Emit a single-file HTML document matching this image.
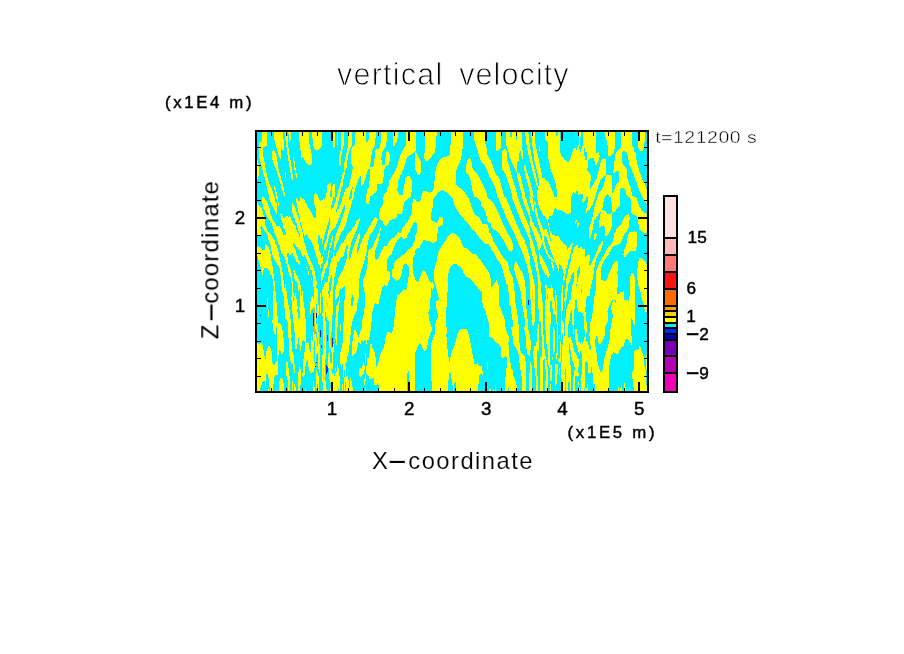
<!DOCTYPE html>
<html lang="en"><head><meta charset="utf-8"><title>vertical velocity</title>
<style>
html,body{margin:0;padding:0;background:#fff;}
body{width:904px;height:654px;overflow:hidden;position:relative;}
svg{position:absolute;left:0;top:0;display:block}
text{will-change:transform}
text{font-family:"Liberation Sans",sans-serif;fill:#000;}
.thin{stroke:#fff;stroke-width:0.9px;}
.med{stroke:#fff;stroke-width:0.15px;}
.thin2{stroke:#fff;stroke-width:0.42px;}
.b{stroke:#000;stroke-width:0.45px;}
</style></head><body>
<svg width="904" height="654" viewBox="0 0 904 654">
<rect x="0" y="0" width="904" height="654" fill="#fff"/>
<!-- plot field -->
<rect x="255" y="130" width="394" height="263" fill="#000"/>
<rect x="257" y="132" width="390" height="259" fill="#00F0FF"/>
<g id="field" shape-rendering="crispEdges" fill="#FFFF00">
<defs><clipPath id="c00"><rect x="257" y="132" width="78" height="65"/></clipPath><clipPath id="c01"><rect x="257" y="197" width="78" height="65"/></clipPath><clipPath id="q1"><rect x="257" y="197" width="40" height="33"/></clipPath><clipPath id="q2"><rect x="296" y="197" width="40" height="33"/></clipPath><clipPath id="q3"><rect x="257" y="229" width="40" height="33"/></clipPath><clipPath id="q4"><rect x="296" y="229" width="40" height="33"/></clipPath><clipPath id="c02"><rect x="257" y="262" width="78" height="65"/></clipPath><clipPath id="q5"><rect x="257" y="262" width="40" height="33"/></clipPath><clipPath id="q6"><rect x="296" y="262" width="40" height="33"/></clipPath><clipPath id="q7"><rect x="257" y="294" width="40" height="33"/></clipPath><clipPath id="q8"><rect x="296" y="294" width="40" height="33"/></clipPath><clipPath id="c03"><rect x="257" y="327" width="78" height="64"/></clipPath><clipPath id="q9"><rect x="257" y="327" width="40" height="33"/></clipPath><clipPath id="q10"><rect x="296" y="327" width="40" height="33"/></clipPath><clipPath id="q11"><rect x="257" y="359" width="40" height="33"/></clipPath><clipPath id="q12"><rect x="296" y="359" width="40" height="33"/></clipPath><clipPath id="c10"><rect x="335" y="132" width="78" height="65"/></clipPath><clipPath id="c11"><rect x="335" y="197" width="78" height="65"/></clipPath><clipPath id="q13"><rect x="335" y="197" width="40" height="33"/></clipPath><clipPath id="q14"><rect x="374" y="197" width="40" height="33"/></clipPath><clipPath id="q15"><rect x="335" y="229" width="40" height="33"/></clipPath><clipPath id="q16"><rect x="374" y="229" width="40" height="33"/></clipPath><clipPath id="c12"><rect x="335" y="262" width="78" height="65"/></clipPath><clipPath id="c13"><rect x="335" y="327" width="78" height="64"/></clipPath><clipPath id="q17"><rect x="335" y="327" width="40" height="33"/></clipPath><clipPath id="q18"><rect x="335" y="359" width="40" height="33"/></clipPath><clipPath id="q19"><rect x="374" y="327" width="40" height="33"/></clipPath><clipPath id="q20"><rect x="374" y="359" width="40" height="33"/></clipPath><clipPath id="c20"><rect x="413" y="132" width="78" height="65"/></clipPath><clipPath id="c21"><rect x="413" y="197" width="78" height="65"/></clipPath><clipPath id="c22"><rect x="413" y="262" width="78" height="65"/></clipPath><clipPath id="c23"><rect x="413" y="327" width="78" height="64"/></clipPath><clipPath id="c30"><rect x="491" y="132" width="78" height="65"/></clipPath><clipPath id="c31"><rect x="491" y="197" width="78" height="65"/></clipPath><clipPath id="q21"><rect x="530" y="197" width="40" height="33"/></clipPath><clipPath id="q22"><rect x="530" y="229" width="40" height="33"/></clipPath><clipPath id="c32"><rect x="491" y="262" width="78" height="65"/></clipPath><clipPath id="q23"><rect x="530" y="262" width="40" height="33"/></clipPath><clipPath id="q24"><rect x="530" y="294" width="40" height="33"/></clipPath><clipPath id="c33"><rect x="491" y="327" width="78" height="64"/></clipPath><clipPath id="q25"><rect x="491" y="327" width="40" height="33"/></clipPath><clipPath id="q26"><rect x="530" y="327" width="40" height="33"/></clipPath><clipPath id="q27"><rect x="491" y="359" width="40" height="33"/></clipPath><clipPath id="q28"><rect x="530" y="359" width="40" height="33"/></clipPath><clipPath id="c40"><rect x="569" y="132" width="78" height="65"/></clipPath><clipPath id="c41"><rect x="569" y="197" width="78" height="65"/></clipPath><clipPath id="q29"><rect x="569" y="197" width="40" height="33"/></clipPath><clipPath id="q30"><rect x="608" y="197" width="40" height="33"/></clipPath><clipPath id="q31"><rect x="569" y="229" width="40" height="33"/></clipPath><clipPath id="q32"><rect x="608" y="229" width="40" height="33"/></clipPath><clipPath id="c42"><rect x="569" y="262" width="78" height="65"/></clipPath><clipPath id="q33"><rect x="569" y="262" width="40" height="33"/></clipPath><clipPath id="q34"><rect x="608" y="262" width="40" height="33"/></clipPath><clipPath id="q35"><rect x="569" y="294" width="40" height="33"/></clipPath><clipPath id="q36"><rect x="608" y="294" width="40" height="33"/></clipPath><clipPath id="c43"><rect x="569" y="327" width="78" height="64"/></clipPath><clipPath id="q37"><rect x="569" y="327" width="40" height="33"/></clipPath><clipPath id="q38"><rect x="608" y="327" width="40" height="33"/></clipPath><clipPath id="q39"><rect x="569" y="359" width="40" height="33"/></clipPath><clipPath id="q40"><rect x="608" y="359" width="40" height="33"/></clipPath></defs>
<g clip-path="url(#c00)"><polygon points="262.0,132.0 267.4,132.0 266.9,145.9 263.0,146.9 263.2,154.9 264.5,161.8 265.9,169.8 266.9,175.7 268.9,182.7 271.9,188.7 273.4,193.6 274.1,197.0 268.9,197.0 268.4,193.6 266.9,187.7 265.4,179.7 263.5,173.7 261.5,165.8 259.5,157.8 259.0,147.9 259.2,142.9 261.5,140.9"/><polygon points="257.0,158.8 258.0,160.8 258.8,165.8 258.8,174.7 257.8,178.7 257.0,180.7"/><polygon points="273.9,132.0 283.0,132.0 283.8,142.9 284.0,150.4 282.6,150.4 281.6,146.9 281.1,151.9 280.9,158.6 279.9,158.6 278.1,153.4 276.1,146.4 274.4,140.0"/><polygon points="284.3,132.0 287.3,132.0 287.8,141.9 289.0,151.9 290.8,161.8 292.3,171.8 293.0,180.2 292.0,180.2 290.3,171.8 288.6,161.8 287.1,151.9 285.8,141.9"/><polygon points="288.3,132.0 291.3,132.0 291.0,139.0 289.8,142.4 289.0,140.0"/><polygon points="293.0,156.8 294.0,156.8 295.3,166.8 297.1,175.7 296.8,177.9 295.8,176.7 294.0,167.8"/><polygon points="285.1,171.8 286.1,171.8 286.1,177.7 285.1,177.7"/><polygon points="271.9,151.9 273.4,149.9 274.9,151.4 276.6,155.9 277.5,161.8 278.4,168.8 280.4,175.7 282.3,182.7 284.0,188.7 285.1,195.1 284.3,195.8 283.0,192.6 280.9,185.7 278.9,178.7 276.9,171.8 274.9,166.8 272.4,159.8"/><polygon points="273.9,186.2 274.9,186.2 276.4,191.6 277.9,197.0 276.4,197.0 274.9,191.6"/><polygon points="299.2,132.0 308.7,132.0 309.2,141.9 310.7,149.9 312.0,155.9 311.9,163.0 310.7,164.8 308.2,164.6 304.7,160.8 302.9,157.0 301.3,157.6 300.7,151.9 299.5,141.9"/><polygon points="312.2,132.0 322.1,132.0 322.1,145.4 320.6,148.1 318.4,149.9 315.6,149.9 313.9,147.9 312.7,141.9"/><polygon points="333.3,132.0 335.0,132.0 335.0,145.9 334.0,148.7 333.0,146.9"/><polygon points="326.6,186.2 330.5,182.7 331.3,184.2 330.5,190.6 330.1,197.0 326.1,197.0 326.6,191.6"/><polygon points="332.0,186.7 334.0,183.7 335.0,183.7 335.0,197.0 331.5,197.0 331.5,190.6"/><polygon points="314.1,197.0 314.4,194.6 315.8,192.8 317.6,195.1 317.8,197.0"/></g>
<g clip-path="url(#c01)"><g clip-path="url(#q1)"><rect x="257" y="197" width="40" height="33" fill="#00F0FF"/><polygon fill="#FFFF00" points="257.0,203.1 258.0,203.6 259.0,205.6 261.0,207.1 262.0,208.6 262.3,210.6 263.1,211.6 263.3,214.7 264.1,215.2 264.6,217.2 264.8,219.7 265.1,225.8 266.1,226.8 266.8,229.3 266.8,230.0 257.0,230.0"/><polygon fill="#00F0FF" points="261.5,226.0 263.1,227.8 263.3,228.8 264.1,229.3 264.1,230.0 260.8,230.0 260.0,228.3 260.0,227.3"/><polygon fill="#FFFF00" points="262.0,197.0 264.1,197.0 265.1,199.0 266.1,200.5 267.1,202.0 268.1,204.1 268.9,207.1 269.9,208.6 270.1,213.1 271.1,214.7 272.1,217.2 272.6,219.7 273.7,221.2 274.7,222.7 275.7,224.8 277.2,226.8 278.2,225.8 279.7,226.3 280.2,227.8 281.2,230.0 273.1,230.0 272.9,227.3 272.1,224.2 271.1,222.7 270.1,221.7 269.1,219.7 268.1,218.2 267.1,216.2 266.1,214.2 265.1,212.1 264.3,209.6 263.3,208.6 263.1,204.1 262.0,203.6"/><polygon fill="#FFFF00" points="269.1,197.0 274.9,197.0 275.2,201.5 276.4,202.6 276.9,206.1 276.9,213.7 276.4,213.9 275.9,213.1 275.2,211.6 274.2,209.6 273.1,207.1 272.1,205.1 271.1,203.6 270.1,201.0 269.1,199.5"/><polygon fill="#FFFF00" points="276.2,197.0 277.9,197.0 277.9,201.5 278.9,202.0 278.9,205.6 278.2,205.8 277.9,203.1 277.2,202.0 276.9,199.5 276.2,199.0"/><polygon fill="#FFFF00" points="280.0,214.2 282.0,214.2 282.2,215.9 283.2,216.4 283.2,217.7 284.8,217.9 286.0,216.4 287.3,215.9 288.3,216.7 289.3,215.9 290.3,216.9 291.3,219.2 292.3,221.2 293.3,223.2 294.3,224.8 295.9,226.8 296.1,230.0 285.0,230.0 284.2,228.3 283.2,227.3 283.0,223.2 282.2,222.2 282.0,220.2 281.2,219.2 281.0,215.7 280.0,214.7"/><polygon fill="#FFFF00" points="292.1,203.1 293.1,203.1 293.3,205.1 294.6,206.6 295.9,209.1 296.1,211.6 297.0,211.9 297.0,223.2 295.9,222.7 294.8,219.7 294.6,218.2 293.3,216.7 293.1,213.7 292.1,212.6"/><polygon fill="#FFFF00" points="296.1,198.0 297.0,198.0 297.0,202.8 296.1,202.6"/></g><g clip-path="url(#q2)"><rect x="296" y="197" width="40" height="33" fill="#FFFF00"/><polygon fill="#00F0FF" points="301.0,197.0 313.9,197.0 313.9,204.6 314.9,205.1 314.9,207.6 315.9,208.1 315.9,217.7 314.2,217.7 313.2,216.2 312.1,213.7 311.1,212.1 310.1,209.6 308.1,207.6 307.1,204.6 305.1,202.6 305.1,200.5 304.1,199.3 302.1,198.5"/><polygon fill="#00F0FF" points="296.0,197.0 300.0,197.0 300.0,200.8 298.0,200.8 298.0,199.3 296.8,198.3 296.0,198.0"/><polygon fill="#00F0FF" points="296.0,203.1 297.0,203.1 297.0,208.1 298.0,208.6 298.0,213.1 299.0,213.7 299.0,216.7 300.0,217.2 300.0,220.7 299.1,220.7 298.8,218.2 298.0,217.2 297.8,214.7 297.0,214.2 296.8,212.1 296.0,211.9"/><polygon fill="#00F0FF" points="300.0,222.0 301.0,222.2 301.0,225.0 302.1,225.3 302.1,228.5 303.1,229.3 303.1,230.0 301.3,230.0 301.0,227.8 300.0,224.8"/><polygon fill="#00F0FF" points="296.0,223.0 297.0,223.2 297.0,226.3 298.0,226.8 298.0,230.0 296.0,230.0"/><polygon fill="#00F0FF" points="317.9,197.0 325.0,197.0 325.0,198.8 324.0,199.0 323.8,198.0 323.0,198.3 322.7,199.5 321.2,200.0 320.5,201.0 319.7,200.0 319.0,199.0 317.9,197.5"/><polygon fill="#00F0FF" points="333.3,197.0 336.0,197.0 336.0,201.8 335.1,202.3 334.9,204.1 333.8,204.6 333.6,206.6 332.1,208.1 332.1,209.9 331.1,209.9 331.1,205.1 332.1,204.6 332.1,201.3 333.1,200.8"/><polygon fill="#00F0FF" points="329.1,217.9 330.1,217.9 330.1,225.3 329.1,225.8 328.8,228.3 328.3,230.0 326.0,230.0 327.0,228.3 327.0,225.3 328.0,224.8 328.3,222.0 329.1,221.2"/><polygon fill="#00F0FF" points="336.0,226.8 334.9,227.3 333.8,228.8 333.1,230.0 336.0,230.0"/></g><g clip-path="url(#q3)"><rect x="257" y="229" width="40" height="33" fill="#FFFF00"/><polygon fill="#00F0FF" points="261.0,229.0 263.8,229.0 265.1,232.0 267.1,234.0 267.8,236.1 268.1,239.6 269.1,241.6 270.1,242.6 270.9,246.7 271.1,250.2 272.1,251.2 272.1,254.7 273.1,256.2 273.4,258.3 274.7,259.8 275.9,261.3 276.2,262.0 272.1,262.0 271.1,259.8 270.9,254.7 269.9,254.2 269.6,250.2 269.1,247.2 267.1,245.7 265.3,244.1 265.1,249.7 262.0,249.9 260.0,247.7 258.0,246.4 257.0,246.2 257.0,235.8 261.0,235.6"/><polygon fill="#00F0FF" points="267.1,229.0 267.1,230.5 269.1,232.0 270.1,234.0 272.1,236.1 273.1,238.6 274.9,240.6 275.2,243.1 276.2,244.6 277.2,247.2 278.2,249.2 278.2,251.7 279.2,252.7 279.2,256.2 280.2,257.3 280.2,262.0 286.3,262.0 286.0,260.3 285.3,259.3 284.8,257.3 283.2,255.2 282.2,253.7 281.2,252.2 281.2,250.7 280.2,249.2 280.0,246.2 279.2,244.6 278.2,243.6 278.2,241.6 277.2,240.6 276.9,238.1 275.9,236.1 275.2,234.0 274.2,232.0 273.7,229.0"/><polygon fill="#00F0FF" points="281.2,229.0 285.0,229.0 285.0,231.5 286.0,232.0 286.0,234.6 283.2,234.6 282.7,232.5 281.7,231.0"/><polygon fill="#00F0FF" points="293.1,243.1 293.8,243.1 294.8,244.6 295.9,245.7 297.0,246.7 297.0,252.7 296.1,252.2 295.9,250.7 294.8,249.2 294.3,246.7 293.1,245.1"/><polygon fill="#00F0FF" points="287.0,253.2 288.8,253.2 289.3,254.2 290.1,255.7 291.3,254.7 292.1,253.2 292.8,253.2 293.1,255.2 294.3,256.8 295.3,258.3 296.1,259.3 297.0,260.3 297.0,262.0 288.0,262.0 288.0,257.3 287.0,256.5"/><polygon fill="#00F0FF" points="257.0,256.2 257.8,256.2 258.0,259.8 259.0,260.3 259.0,262.0 257.0,262.0"/><polygon fill="#00F0FF" points="296.1,229.0 297.0,229.0 297.0,229.8 296.1,229.5"/></g><g clip-path="url(#q4)"><rect x="296" y="229" width="40" height="33" fill="#FFFF00"/><polygon fill="#00F0FF" points="296.0,229.0 298.0,229.0 298.0,230.5 299.0,231.0 299.0,233.0 300.0,233.5 300.0,236.8 299.0,236.8 298.8,234.8 298.0,234.0 297.8,232.0 297.0,231.5 296.8,230.3 296.0,230.0"/><polygon fill="#00F0FF" points="301.8,229.0 303.1,229.0 303.1,231.8 302.1,231.8"/><polygon fill="#00F0FF" points="303.1,233.0 304.1,233.0 304.3,235.6 305.1,235.8 306.1,234.0 306.8,234.0 308.1,235.6 308.1,237.3 310.1,239.3 311.1,241.6 312.1,243.1 313.2,245.1 313.9,246.9 314.2,249.7 315.2,251.2 315.2,252.7 316.2,253.7 316.2,256.2 317.2,257.3 317.2,258.8 318.2,259.3 318.2,262.0 310.9,262.0 310.1,259.3 309.1,257.3 308.1,254.7 307.1,251.2 306.1,249.2 305.8,246.7 305.1,245.7 304.8,243.1 304.1,242.6 303.8,238.1 303.1,237.6"/><polygon fill="#00F0FF" points="296.0,246.9 298.0,247.2 298.0,248.7 300.0,250.2 301.0,252.2 301.0,253.7 302.1,255.2 303.6,256.8 303.8,255.2 304.8,255.0 305.1,256.8 306.1,258.3 307.1,259.8 307.1,262.0 299.8,262.0 299.0,260.3 298.0,258.8 297.8,256.2 296.8,254.7 296.0,254.0"/><polygon fill="#00F0FF" points="326.0,229.0 326.0,231.8 325.0,232.3 324.8,234.6 324.0,235.1 323.8,239.6 323.0,240.1 322.7,243.9 322.0,243.9 322.0,238.1 321.2,237.8 321.0,238.8 320.2,238.8 320.0,236.6 319.0,235.1 317.9,235.1 317.9,243.6 319.0,244.1 319.0,250.7 320.0,251.2 320.2,252.7 321.0,253.2 321.2,257.8 322.0,258.0 322.2,256.2 323.0,256.0 323.2,262.0 336.0,262.0 336.0,229.0"/><polygon fill="#FFFF00" points="329.1,229.0 333.3,229.0 332.3,230.5 331.1,231.3 330.8,233.0 330.1,233.8 329.3,235.6 329.1,238.6 328.3,239.1 328.0,243.1 327.0,243.6 326.8,246.7 326.0,247.4 325.8,249.7 324.0,249.9 324.0,244.1 325.0,243.1 325.3,242.1 326.0,241.6 326.3,239.1 327.0,238.1 327.3,234.6 328.3,233.5 328.3,230.5 329.1,230.3"/><polygon fill="#FFFF00" points="332.1,236.1 333.1,236.1 333.1,240.6 332.3,241.1 332.1,244.1 331.1,245.1 330.8,248.2 330.1,248.9 329.8,251.7 329.1,252.2 328.8,257.8 328.0,258.8 328.0,262.0 326.0,262.0 326.3,260.8 327.0,260.3 327.3,258.3 328.0,254.2 328.3,251.2 329.1,250.2 329.3,247.2 330.1,246.2 330.3,243.6 331.1,242.6 331.3,239.1 332.1,238.6"/><polygon fill="#FFFF00" points="335.1,236.1 336.0,236.1 336.0,247.2 335.1,247.4 334.9,249.9 334.1,249.9 334.1,240.9 335.1,240.4"/><polygon fill="#FFFF00" points="333.3,252.0 334.1,252.0 334.1,255.7 336.0,256.0 336.0,262.0 331.1,262.0 331.3,259.3 332.3,258.3 333.1,257.3"/><polygon fill="#FFFF00" points="323.0,250.9 324.0,250.9 324.0,254.0 323.0,254.0"/></g></g>
<g clip-path="url(#c02)"><g clip-path="url(#q5)"><rect x="257" y="262" width="40" height="33" fill="#00F0FF"/><polygon fill="#FFFF00" points="259.0,262.0 272.1,262.0 272.1,265.8 273.1,266.3 273.1,273.9 274.2,274.4 274.2,280.7 274.9,281.2 275.2,291.8 275.9,292.3 276.2,295.0 273.1,295.0 273.1,291.3 274.2,291.0 273.9,286.0 273.1,285.7 272.9,279.4 272.1,278.9 271.9,275.1 271.1,274.6 270.1,273.9 269.9,271.6 269.1,271.1 268.1,270.1 267.1,269.1 266.8,268.1 264.1,268.1 263.8,269.8 263.1,270.1 263.1,274.6 262.0,274.9 261.8,272.1 261.0,271.6 260.8,267.0 260.0,266.5 259.8,263.0 259.0,262.8"/><polygon fill="#FFFF00" points="275.9,262.0 281.0,262.0 281.2,266.8 282.0,267.3 282.2,271.8 283.0,272.3 283.2,279.7 284.2,280.2 284.2,287.7 285.0,288.0 285.0,283.9 286.0,283.9 286.3,290.8 287.0,291.3 287.0,295.0 283.2,295.0 283.0,292.3 282.2,291.8 282.0,286.2 281.2,285.7 281.0,275.1 280.2,274.6 280.0,268.6 279.2,268.1 278.9,266.5 278.2,266.0 277.9,264.8 277.2,264.3 276.9,263.0 275.9,262.5"/><polygon fill="#FFFF00" points="286.0,262.0 287.8,262.0 288.0,264.0 289.0,264.5 289.3,266.0 290.1,266.5 290.3,269.1 291.1,269.6 291.3,272.8 292.1,273.4 292.3,281.2 293.1,281.7 293.3,292.8 294.1,293.0 294.1,295.0 292.3,295.0 292.1,282.2 291.3,281.7 291.1,277.1 290.3,276.6 290.1,275.1 289.3,274.6 289.0,272.6 288.3,272.1 288.0,267.0 287.3,266.5 287.0,264.0 286.0,263.5"/><polygon fill="#FFFF00" points="293.1,271.1 294.1,270.8 294.3,270.1 295.1,270.1 295.1,272.8 296.1,273.4 296.1,274.9 297.0,275.1 297.0,280.9 295.1,280.7 294.8,279.7 294.1,279.2 294.1,271.8 293.1,271.8"/><polygon fill="#FFFF00" points="295.1,293.0 296.1,293.0 296.1,295.0 295.1,295.0"/></g><g clip-path="url(#q6)"><rect x="296" y="262" width="40" height="33" fill="#00F0FF"/><polygon fill="#FFFF00" points="298.0,262.0 300.0,262.0 300.0,264.8 299.0,264.8 298.8,263.8 298.0,263.5"/><polygon fill="#FFFF00" points="296.0,275.1 297.0,275.1 298.0,276.4 298.0,278.9 299.0,279.7 299.0,280.9 300.0,281.4 300.0,285.0 301.0,285.2 301.0,295.0 300.0,295.0 300.0,289.2 299.0,289.2 299.0,291.0 298.0,291.0 298.0,283.2 297.0,282.7 296.8,280.9 296.0,280.7"/><polygon fill="#FFFF00" points="302.1,291.0 303.1,291.0 303.1,295.0 302.1,295.0"/><polygon fill="#FFFF00" points="305.8,267.0 307.1,267.0 307.1,268.1 305.8,268.1"/><polygon fill="#FFFF00" points="306.8,269.1 308.1,269.1 308.1,270.1 306.8,270.1"/><polygon fill="#FFFF00" points="308.1,271.1 309.1,271.1 309.1,274.9 308.1,274.9"/><polygon fill="#FFFF00" points="310.9,278.1 312.1,278.1 312.1,279.9 310.9,279.9"/><polygon fill="#FFFF00" points="308.1,262.0 311.1,262.0 311.1,263.0 312.1,263.5 312.1,264.8 313.2,265.3 313.2,267.8 314.2,268.3 314.2,271.1 315.2,271.6 315.2,275.9 315.9,276.4 316.2,280.9 316.9,281.4 316.9,284.7 316.2,285.0 316.2,287.7 317.2,288.2 317.9,289.2 318.2,295.0 314.2,295.0 314.2,287.2 313.2,286.7 312.9,275.4 312.1,274.9 311.9,270.6 311.1,270.1 310.1,269.3 309.9,266.0 309.1,265.5 308.9,264.0 308.1,263.5"/><polygon fill="#FFFF00" points="317.9,262.0 323.2,262.0 323.0,263.0 322.0,263.5 321.2,264.3 321.2,267.8 320.2,267.8 320.0,265.0 319.0,264.3 318.2,263.8"/><polygon fill="#FFFF00" points="326.0,262.0 328.0,262.0 328.0,264.8 327.3,265.0 327.0,267.8 326.0,268.3 325.3,269.1 325.0,272.8 324.3,273.1 324.0,276.9 323.2,277.1 323.0,279.9 322.2,280.2 322.0,283.9 321.0,283.9 321.0,274.1 322.0,273.9 322.2,271.1 323.0,270.8 323.2,267.0 324.0,266.8 324.3,264.0 325.3,263.8"/><polygon fill="#FFFF00" points="331.1,262.0 336.0,262.0 336.0,272.8 335.1,273.1 334.9,276.9 334.1,277.1 333.8,286.7 333.1,287.0 333.1,295.0 330.1,295.0 330.3,291.3 331.1,291.0 331.3,284.2 332.1,283.9 332.1,275.1 331.1,275.1 330.8,277.9 330.1,278.1 329.8,281.7 329.1,281.9 328.8,290.8 328.0,291.3 328.0,293.8 329.1,294.3 329.1,295.0 322.2,295.0 322.2,289.2 323.2,288.7 323.2,287.2 324.0,287.0 324.3,284.2 325.0,283.7 325.3,282.2 328.0,281.9 328.3,276.1 329.1,275.9 329.3,267.0 330.1,266.8 330.3,263.0 331.1,262.8"/><polygon fill="#FFFF00" points="335.1,289.0 336.0,289.0 336.0,295.0 335.1,295.0"/><polygon fill="#FFFF00" points="320.0,293.0 321.0,293.0 321.0,295.0 320.0,295.0"/></g><g clip-path="url(#q7)"><rect x="257" y="294" width="40" height="33" fill="#00F0FF"/><polygon fill="#FFFF00" points="267.1,298.0 267.8,298.0 267.8,308.6 267.1,308.6"/><polygon fill="#FFFF00" points="268.1,310.1 268.9,310.1 268.9,316.7 268.1,316.7"/><polygon fill="#FFFF00" points="273.1,294.0 275.9,294.0 276.2,301.8 276.9,302.3 277.2,315.7 277.9,316.2 278.2,322.8 279.2,323.3 281.0,324.3 281.2,325.8 282.0,326.3 282.0,327.0 273.1,327.0 273.1,323.0 272.1,322.8 272.1,320.2 273.1,319.7"/><polygon fill="#FFFF00" points="283.2,294.0 287.0,294.0 287.3,298.8 288.0,299.3 288.0,304.8 289.0,305.4 289.0,309.9 290.1,310.4 290.1,318.7 290.8,319.2 291.1,327.0 288.3,327.0 288.0,322.0 287.3,321.8 287.0,320.2 286.3,319.7 285.3,318.7 285.0,308.1 284.2,307.6 284.0,296.0 283.2,295.5"/><polygon fill="#FFFF00" points="292.3,294.0 294.1,294.0 294.1,295.8 295.1,296.0 295.1,294.0 296.1,294.0 296.1,298.8 297.0,299.0 297.0,327.0 294.1,327.0 294.1,323.3 293.3,322.8 293.1,314.2 292.3,313.7 292.1,300.1 291.3,299.8 291.1,297.3 292.3,297.0"/><polygon fill="#00F0FF" points="293.1,297.0 294.1,297.0 294.1,300.8 293.1,300.8"/><polygon fill="#0028FF" points="260.0,314.9 261.0,314.9 261.0,316.2 260.0,316.2"/></g><g clip-path="url(#q8)"><rect x="296" y="294" width="40" height="33" fill="#00F0FF"/><polygon fill="#FFFF00" points="296.0,299.0 297.0,299.0 297.0,305.9 298.0,306.4 298.0,308.6 297.0,309.1 297.0,311.7 298.0,312.2 298.0,318.7 299.0,318.7 299.3,317.7 300.0,317.5 300.0,310.1 299.0,309.6 299.0,307.1 300.0,306.6 300.0,294.0 301.0,294.0 301.0,296.0 302.1,296.0 302.1,294.0 303.1,294.0 303.1,301.6 304.1,302.1 304.1,307.9 305.1,308.4 305.1,318.7 306.1,319.2 306.1,327.0 296.0,327.0"/><polygon fill="#FFFF00" points="313.9,294.0 317.9,294.0 318.2,305.1 319.0,305.4 319.0,314.7 317.9,314.9 317.9,327.0 314.2,327.0 314.2,308.4 313.9,307.1 313.2,307.1 312.9,308.9 312.1,309.6 311.1,310.1 310.9,313.7 309.9,313.7 310.1,302.1 310.9,301.8 311.1,297.3 311.9,297.0 312.1,296.0 312.9,296.0 313.2,298.0 313.9,297.8"/><polygon fill="#00F0FF" points="315.9,304.1 316.9,304.1 316.9,312.9 315.9,312.9"/><polygon fill="#0014C8" points="315.9,312.9 316.9,312.9 316.9,317.7 315.9,317.7"/><polygon fill="#00F0FF" points="315.9,317.7 316.9,317.7 316.9,323.8 315.9,323.8"/><polygon fill="#0014C8" points="312.9,312.9 313.9,312.9 313.9,325.8 312.9,325.8"/><polygon fill="#FFAA00" points="314.2,308.4 315.2,308.6 315.4,327.0 314.2,327.0"/><polygon fill="#FFD200" points="316.9,318.2 317.9,318.2 317.9,327.0 316.9,327.0"/><polygon fill="#FFFF00" points="320.0,294.0 321.0,294.0 321.0,312.7 320.0,312.7"/><polygon fill="#FFFF00" points="322.0,294.0 329.1,294.0 329.1,297.8 330.1,297.8 330.1,294.0 333.1,294.0 333.1,314.7 332.1,315.2 332.1,327.0 323.2,327.0 323.2,316.2 322.2,315.7 322.0,313.4 323.2,313.2 323.2,297.0 322.0,296.5"/><polygon fill="#00F0FF" points="325.0,312.2 326.0,312.2 326.3,316.2 327.0,318.7 328.0,320.7 329.1,321.2 329.1,327.0 326.3,327.0 326.0,321.5 325.0,320.7"/><polygon fill="#FFD200" points="326.0,300.1 326.8,300.1 327.0,302.8 327.8,303.1 328.0,307.6 327.3,307.6 327.0,304.8 326.3,304.6"/><polygon fill="#FFFF00" points="335.1,294.0 336.0,294.0 336.0,300.8 335.1,300.6"/><polygon fill="#FFFF00" points="335.1,318.0 336.0,318.0 336.0,327.0 335.1,327.0"/></g></g>
<g clip-path="url(#c03)"><g clip-path="url(#q9)"><rect x="257" y="327" width="40" height="33" fill="#00F0FF"/><polygon fill="#FFFF00" points="273.1,327.0 275.9,327.0 275.9,334.8 275.2,334.8 274.9,333.8 274.2,333.6 274.2,331.0 273.1,330.8"/><polygon fill="#FFFF00" points="277.2,327.0 282.0,327.0 282.0,329.8 283.0,330.0 283.0,337.8 284.0,338.1 284.0,351.7 283.0,352.0 283.0,353.7 281.2,353.7 281.0,351.2 280.0,351.0 280.0,350.0 278.9,350.0 278.9,354.8 277.9,355.0 277.9,360.0 276.9,360.0 277.2,352.2"/><polygon fill="#FFFF00" points="288.0,327.0 291.1,327.0 291.1,334.8 292.1,335.1 292.1,336.8 291.1,337.1 291.1,340.9 292.1,341.1 292.1,351.7 293.1,352.0 293.1,355.0 294.1,355.3 294.1,360.0 290.1,360.0 290.1,356.0 289.0,355.8 289.0,337.8 288.0,337.6"/><polygon fill="#FFFF00" points="294.1,327.0 297.0,327.0 297.0,348.9 295.1,348.7 295.1,332.0 294.1,331.8"/><polygon fill="#FFFF00" points="257.0,343.1 258.0,343.1 258.3,343.9 259.8,343.9 260.0,343.1 261.8,343.1 262.0,344.9 263.1,345.2 263.1,350.0 264.1,350.2 264.1,355.8 265.1,356.3 265.1,358.8 266.1,358.8 266.1,351.2 267.1,351.0 267.1,347.9 268.1,347.7 268.1,346.2 269.9,346.2 270.1,347.7 270.9,347.9 271.1,350.7 272.1,351.2 272.1,360.0 257.0,360.0"/></g><g clip-path="url(#q10)"><rect x="296" y="327" width="40" height="33" fill="#00F0FF"/><polygon fill="#FFFF00" points="296.0,327.0 306.1,327.0 306.1,342.6 306.8,342.6 307.1,341.9 307.9,341.9 308.1,343.1 308.9,343.4 309.1,348.7 309.9,349.2 310.1,351.7 311.1,351.7 311.1,337.1 312.1,337.1 312.1,340.6 313.2,340.9 313.2,332.0 313.9,331.8 314.2,327.0 317.9,327.0 317.9,331.8 319.0,332.0 319.2,343.7 320.0,344.2 320.2,360.0 318.2,360.0 318.2,353.0 317.2,353.0 316.9,354.0 316.2,354.2 316.2,360.0 303.1,360.0 303.1,359.0 304.1,358.5 304.1,352.2 305.1,351.7 305.1,340.9 304.1,340.6 303.8,339.9 303.1,340.1 302.8,341.1 302.1,341.4 302.1,345.7 301.0,345.9 301.0,350.7 300.0,350.7 300.0,345.2 299.0,344.9 299.0,338.4 298.0,338.1 298.0,343.9 297.0,344.2 297.0,348.9 296.0,348.9"/><polygon fill="#00F0FF" points="314.2,341.1 314.9,341.1 314.9,360.0 314.2,360.0"/><polygon fill="#00F0FF" points="313.2,347.9 314.2,347.9 314.2,349.2 313.2,349.2"/><polygon fill="#00F0FF" points="315.2,329.3 316.2,329.3 316.2,332.0 316.9,332.3 316.9,337.8 316.2,337.8 315.9,334.1 315.2,333.8"/><polygon fill="#00F0FF" points="316.9,338.1 317.9,338.1 317.9,345.9 316.9,345.9"/><polygon fill="#FFAA00" points="314.2,327.0 314.9,327.0 314.9,334.6 314.2,334.6"/><polygon fill="#FFD200" points="316.9,327.0 317.7,327.0 317.7,328.8 316.9,328.8"/><polygon fill="#FFFF00" points="323.0,327.0 326.0,327.0 326.0,360.0 322.0,360.0 322.2,355.0 323.0,354.8"/><polygon fill="#FFD200" points="324.0,335.1 325.0,335.1 325.0,347.7 324.0,347.7"/><polygon fill="#FFFF00" points="329.1,327.0 332.1,327.0 332.1,331.8 331.1,332.0 331.1,347.7 330.3,347.9 330.1,360.0 328.0,360.0 328.0,353.0 329.1,352.7"/><polygon fill="#FFD200" points="330.1,336.1 330.8,336.1 330.8,344.7 330.1,344.7"/><polygon fill="#FFAA00" points="331.1,346.4 331.8,346.4 331.8,348.7 331.1,348.7"/><polygon fill="#FFFF00" points="332.1,343.7 334.1,343.9 334.1,351.7 333.1,352.0 333.1,360.0 332.1,360.0 332.1,351.7 331.3,351.7 331.3,348.2 332.1,347.9"/><polygon fill="#FFFF00" points="335.1,327.0 336.0,327.0 336.0,338.9 335.1,338.6"/><polygon fill="#FFFF00" points="334.1,339.9 335.1,339.9 335.1,341.1 334.1,341.1"/><polygon fill="#0028FF" points="320.0,330.0 321.0,330.0 321.0,336.8 320.0,336.8"/><polygon fill="#0028FF" points="321.0,344.9 322.0,344.9 322.0,347.7 321.0,347.7"/><polygon fill="#0028FF" points="327.0,335.1 328.0,335.1 328.0,340.6 327.0,340.6"/><polygon fill="#0028FF" points="332.1,338.1 333.1,338.1 333.1,346.7 332.1,346.7"/></g><g clip-path="url(#q11)"><rect x="257" y="359" width="40" height="33" fill="#00F0FF"/><polygon fill="#FFFF00" points="257.0,359.0 272.1,359.0 272.1,362.5 273.1,363.0 273.1,364.8 274.9,364.8 275.2,362.8 276.2,362.3 276.2,361.0 277.2,360.8 277.2,359.0 277.9,359.0 277.9,374.9 275.2,375.1 274.9,376.9 274.2,377.2 273.9,383.7 273.1,384.0 273.1,392.0 270.1,392.0 269.9,387.3 269.1,387.0 268.9,378.2 267.8,377.9 267.8,374.1 266.1,374.1 266.1,385.7 265.1,385.7 265.1,381.2 263.1,381.2 262.0,382.2 261.8,385.0 261.0,385.2 260.8,387.8 260.0,388.3 260.0,392.0 257.0,392.0"/><polygon fill="#FFFF00" points="268.1,389.0 268.9,389.0 268.9,392.0 268.1,392.0"/><polygon fill="#FFFF00" points="286.3,362.0 288.0,362.0 288.0,367.8 289.0,368.1 289.0,375.9 290.1,376.2 290.1,392.0 288.3,392.0 288.0,379.9 287.3,379.7 287.0,375.9 286.3,375.7"/><polygon fill="#FFFF00" points="290.1,359.0 294.1,359.0 294.1,363.8 295.1,364.0 295.1,372.9 294.1,372.9 294.1,369.1 293.1,368.8 293.1,364.0 292.3,363.8 291.3,362.5 291.1,361.0 290.1,360.8"/><polygon fill="#FFFF00" points="280.0,378.2 282.0,378.2 282.0,379.2 283.0,379.4 283.0,382.7 284.0,383.2 284.0,392.0 278.9,392.0 278.9,380.9 280.0,380.7"/><polygon fill="#FFFF00" points="292.1,380.9 293.1,380.9 293.1,392.0 292.1,392.0"/><polygon fill="#FFFF00" points="294.1,384.0 295.1,384.0 295.1,387.0 296.1,387.3 296.1,392.0 294.1,392.0"/></g><g clip-path="url(#q12)"><rect x="296" y="359" width="40" height="33" fill="#00F0FF"/><polygon fill="#FFFF00" points="299.0,367.1 300.0,367.1 300.0,368.8 301.0,369.1 301.0,385.0 300.0,385.2 300.0,392.0 298.0,392.0 298.0,372.1 299.0,371.9"/><polygon fill="#FFFF00" points="303.1,359.0 314.2,359.0 314.2,361.8 314.9,362.0 314.9,367.8 313.9,368.1 313.9,371.6 312.1,371.9 311.9,372.9 310.1,372.9 309.9,371.1 309.1,370.9 308.9,367.1 308.1,366.8 307.9,360.3 306.8,360.3 306.8,361.0 306.1,361.3 306.1,366.1 305.1,366.3 305.1,374.9 304.1,375.1 303.8,376.9 303.1,376.9 302.8,375.7 302.1,375.4 302.1,373.4 303.1,373.1"/><polygon fill="#FFFF00" points="304.8,389.0 306.1,389.0 306.1,392.0 304.8,392.0"/><polygon fill="#FFFF00" points="313.2,380.9 313.9,380.9 313.9,386.8 314.9,387.0 314.9,392.0 313.2,392.0"/><polygon fill="#FFFF00" points="316.2,370.1 316.9,370.1 316.9,372.9 317.9,373.1 317.9,376.2 319.0,376.4 319.0,392.0 317.9,392.0 317.9,384.2 316.9,384.2 316.9,388.0 316.2,388.0"/><polygon fill="#FFFF00" points="317.9,359.0 320.0,359.0 320.0,372.6 319.2,372.6 319.0,369.1 317.9,368.8"/><polygon fill="#FFFF00" points="314.9,359.0 315.9,359.0 315.9,361.8 314.9,361.8"/><polygon fill="#FFFF00" points="322.0,359.0 325.0,359.0 325.0,381.2 326.0,381.7 326.3,388.8 327.0,389.3 327.0,392.0 323.0,392.0 323.0,381.7 322.0,381.5"/><polygon fill="#FFD200" points="323.0,368.1 323.8,368.1 324.0,376.2 324.8,376.4 324.8,378.7 324.0,378.9 323.8,379.7 323.0,379.7"/><polygon fill="#FFFF00" points="328.0,359.0 330.1,359.0 330.1,362.8 332.1,362.8 332.1,359.0 333.1,359.0 333.1,369.1 332.1,369.3 332.1,373.6 333.1,373.9 333.3,373.1 334.1,373.4 334.1,375.7 335.1,375.9 335.1,373.1 336.0,372.9 336.0,392.0 330.1,392.0 330.1,388.3 331.1,388.0 331.1,383.2 330.1,383.0 330.1,378.9 329.1,378.7 329.1,368.1 328.0,367.8"/><polygon fill="#FFD200" points="331.1,367.1 331.8,367.1 331.8,371.9 331.1,371.9"/><polygon fill="#FFFF00" points="335.1,368.1 336.0,368.1 336.0,370.9 335.1,370.9"/><polygon fill="#0028FF" points="315.9,362.0 316.9,362.0 316.9,363.0 315.9,363.0"/><polygon fill="#0014C8" points="314.9,366.1 315.9,366.1 315.9,367.1 314.9,367.1"/><polygon fill="#0028FF" points="326.0,365.1 327.0,365.1 327.0,366.6 328.0,367.1 328.0,372.1 327.0,372.9 327.0,373.9 326.0,373.9"/></g></g>
<g clip-path="url(#c10)"><polygon points="356.2,132.0 413.0,132.0 413.0,197.0 342.8,197.0 343.1,195.8 344.0,193.2 345.1,190.2 346.1,188.2 347.8,187.5 348.6,186.7 348.9,183.4 349.6,182.7 349.9,179.1 350.9,178.6 351.1,174.1 351.9,173.5 352.1,169.0 353.1,168.5 353.1,166.0 352.1,165.5 352.1,165.0 351.1,163.8 351.1,151.2 352.1,147.1 355.2,144.6 355.2,135.0"/><polygon fill="#00F0FF" points="365.8,132.0 365.8,141.5 367.8,141.8 368.0,140.1 369.0,139.6 369.3,133.0 370.0,132.8 370.0,132.0"/><polygon fill="#00F0FF" points="376.0,132.0 376.0,137.6 375.1,138.1 375.1,145.6 374.3,146.4 373.3,148.1 372.3,150.1 371.8,154.7 371.1,155.2 370.8,163.3 370.0,163.8 370.0,166.8 372.0,167.0 374.1,166.3 373.8,165.0 374.0,159.2 375.1,158.7 375.1,151.2 376.0,149.1 378.8,148.6 379.8,147.6 379.8,143.1 380.8,142.5 380.8,132.0"/><polygon fill="#00F0FF" points="387.1,132.0 406.3,132.0 406.3,135.0 405.8,145.6 404.8,146.1 403.3,149.1 401.7,152.2 400.2,155.2 399.2,159.2 398.2,162.2 398.0,164.0 397.2,165.5 396.7,168.1 395.2,170.1 393.6,173.5 392.1,175.6 390.7,178.6 389.1,181.1 389.0,185.7 387.6,187.7 386.9,191.2 384.1,194.2 383.8,197.0 369.8,197.0 370.3,196.0 372.3,195.2 373.8,193.2 375.6,192.7 376.7,190.7 377.0,185.2 378.0,183.2 379.0,183.9 381.8,183.7 382.8,182.7 383.1,177.1 383.8,176.6 384.1,170.1 385.1,167.0 388.1,165.0 389.1,164.0 389.1,161.2 389.9,160.7 389.9,154.2 388.1,151.7 387.4,150.9 386.1,153.2 386.1,157.7 385.1,158.2 385.1,165.0 382.1,165.0 382.1,160.2 381.1,159.2 381.1,157.2 382.1,156.7 382.1,152.2 383.8,149.7 385.1,147.1 386.1,146.6 386.1,142.1 387.1,141.5"/><polygon fill="#00F0FF" points="413.0,153.7 411.3,154.2 409.3,155.2 407.3,157.2 406.3,159.2 405.8,162.8 405.0,164.0 404.8,165.5 403.8,168.1 402.8,170.6 401.7,173.5 400.2,175.6 399.2,178.6 398.2,181.1 398.0,187.7 397.1,188.2 397.1,190.7 398.2,191.7 398.7,194.2 399.7,194.9 402.8,194.9 403.3,190.2 404.3,184.2 405.0,183.7 405.3,178.6 406.3,177.1 407.3,176.1 410.0,176.1 410.8,178.6 411.8,180.1 411.8,191.7 411.0,192.2 410.8,197.0 413.0,197.0"/><polygon fill="#00F0FF" points="360.4,175.8 359.2,177.1 358.2,180.1 357.2,182.2 356.2,185.7 355.2,189.7 354.2,193.7 353.9,197.0 365.8,197.0 365.8,194.3 366.8,193.7 367.3,189.2 369.0,187.7 369.3,181.1 370.0,180.6 370.0,169.0 368.3,169.0 367.3,171.1 366.3,175.1 365.3,179.1 363.7,183.7 361.7,185.9 360.9,185.7 360.9,175.8"/><polygon fill="#00F0FF" points="352.4,187.0 351.1,189.2 350.1,192.2 350.1,197.0 351.9,197.0 351.9,191.6 352.9,187.2"/><polygon points="393.1,132.0 393.1,145.6 394.9,145.6 395.2,143.8 396.9,142.1 397.2,138.8 398.0,138.6 398.0,132.0"/><polygon points="337.0,132.0 338.0,132.0 338.0,144.8 337.0,144.8"/><polygon points="341.1,132.0 344.0,132.0 344.0,145.6 343.1,146.1 343.1,149.7 342.1,150.1 341.8,154.2 341.1,155.2 340.8,165.0 340.0,166.0 339.0,166.0 339.0,155.2 340.0,154.7 340.0,151.2 341.1,150.7"/><polygon points="348.1,132.0 352.1,132.0 352.1,145.1 351.1,146.1 350.1,149.1 349.1,150.7 348.6,153.2 348.1,157.2 347.1,161.2 347.1,164.0 346.8,167.5 345.8,168.5 345.1,173.0 344.0,177.1 343.1,181.1 342.8,185.7 341.6,186.7 341.1,190.2 340.0,194.2 339.8,197.0 337.0,197.0 337.0,195.3 338.0,192.2 339.0,188.2 340.0,185.2 341.1,181.1 342.1,176.1 343.1,172.1 344.0,171.6 344.0,162.2 344.8,161.2 345.1,157.2 345.8,156.2 346.1,153.2 346.8,152.2 347.1,148.1 348.1,147.6"/></g>
<g clip-path="url(#c11)"><g clip-path="url(#q13)"><rect x="335" y="197" width="40" height="33" fill="#00F0FF"/><polygon fill="#FFFF00" points="335.0,197.0 353.9,197.0 353.9,197.8 352.9,198.0 352.9,200.0 351.9,200.3 351.9,204.1 350.9,204.3 350.9,207.8 349.9,208.1 349.9,211.1 348.9,211.4 348.9,214.2 347.9,214.4 347.9,217.7 346.9,217.9 346.9,221.7 345.8,222.0 345.8,224.8 344.8,225.0 344.8,226.8 343.8,227.0 343.8,230.0 335.0,230.0"/><polygon fill="#00F0FF" points="335.0,197.0 336.0,197.0 336.0,201.8 335.0,202.0"/><polygon fill="#00F0FF" points="339.0,197.0 342.1,197.0 342.1,201.8 341.1,202.0 341.1,203.8 340.0,204.1 340.0,205.8 339.0,206.1 338.8,208.6 338.0,209.1 337.3,209.6 337.0,211.6 336.0,211.9 336.0,209.1 336.8,208.6 337.0,206.1 338.0,205.1 338.0,201.0 339.0,200.8"/><polygon fill="#00F0FF" points="344.1,205.1 344.8,205.3 344.8,211.4 344.1,211.6 344.1,214.2 343.1,214.7 343.1,216.7 342.1,216.9 342.1,218.9 341.1,219.2 341.1,222.5 340.0,222.7 340.0,225.0 339.0,225.3 339.0,227.8 338.0,228.3 338.0,230.0 335.0,230.0 335.0,227.0 335.8,226.8 336.0,224.2 336.8,224.0 337.0,222.0 337.8,221.7 338.0,219.2 338.8,218.9 339.0,216.9 339.8,216.7 340.0,214.4 340.8,214.2 341.1,212.1 341.8,211.9 342.1,209.4 342.8,209.1 342.8,207.3 343.8,207.1"/><polygon fill="#00F0FF" points="348.9,197.0 352.2,197.0 351.9,198.0 350.9,198.5 350.1,199.5 349.1,199.8"/><polygon fill="#FFFF00" points="366.0,197.0 370.1,197.0 370.1,200.8 369.1,201.0 369.1,203.8 367.3,203.8 367.0,202.8 366.0,202.6"/><polygon fill="#FFFF00" points="360.0,217.9 360.0,220.7 359.0,221.0 359.0,223.7 358.0,224.2 358.0,226.3 356.9,226.8 356.9,230.0 351.9,230.0 352.2,228.3 353.2,227.8 354.2,226.3 355.2,224.2 356.2,223.2 356.4,221.7 357.2,220.2 358.2,219.2 359.2,218.2"/><polygon fill="#FFFF00" points="375.0,217.9 374.1,218.2 373.9,219.7 372.8,220.2 372.1,221.7 371.1,223.2 370.3,225.3 369.3,226.8 368.3,228.3 368.1,230.0 374.1,230.0 374.1,228.3 375.0,228.0"/></g><g clip-path="url(#q14)"><rect x="374" y="197" width="40" height="33" fill="#00F0FF"/><polygon fill="#FFFF00" points="383.1,197.0 410.1,197.0 410.1,197.8 408.8,198.0 408.1,199.0 407.1,199.3 406.0,200.3 405.0,201.0 404.0,202.0 404.0,205.8 403.0,206.1 403.0,210.9 402.0,211.1 402.0,213.9 397.2,214.2 397.0,216.7 395.9,217.2 394.9,218.7 391.9,219.2 391.2,220.2 389.9,220.5 388.9,221.5 388.9,222.7 387.9,223.2 386.9,224.2 386.6,225.8 385.1,225.8 384.1,224.5 383.1,223.7 383.1,221.0 382.1,220.2 380.1,220.0 379.0,218.7 379.0,212.1 380.1,211.6 380.1,208.1 381.1,207.6 382.1,206.6 382.3,205.1 383.1,204.6"/><polygon fill="#FFFF00" points="374.0,217.9 375.0,217.7 375.5,216.9 376.0,217.7 377.0,218.7 378.0,219.5 378.0,220.7 377.0,221.2 376.8,224.0 376.0,224.2 375.8,225.8 375.0,226.3 374.8,227.8 374.0,228.0"/><polygon fill="#FFFF00" points="380.1,228.0 381.1,228.0 381.1,230.0 380.1,230.0"/><polygon fill="#FFFF00" points="413.1,199.0 414.0,199.0 414.0,223.0 413.1,223.2 412.9,224.8 412.1,225.3 411.8,227.8 411.1,228.3 410.1,229.3 409.8,230.0 402.0,230.0 402.0,228.3 403.0,227.8 403.3,226.3 404.3,225.8 405.3,224.5 406.3,223.7 407.3,222.2 408.1,220.7 409.1,219.2 409.3,217.7 410.1,217.2 410.3,215.7 411.1,215.2 411.3,214.2 412.1,213.9 412.1,203.1 413.1,202.8"/></g><g clip-path="url(#q15)"><rect x="335" y="229" width="40" height="33" fill="#FFFF00"/><polygon fill="#00F0FF" points="335.0,229.0 338.0,229.0 337.8,230.0 337.0,230.5 336.8,232.8 336.0,233.3 335.8,235.8 335.0,236.1"/><polygon fill="#00F0FF" points="344.1,229.0 343.1,230.3 342.1,231.3 341.1,232.3 340.8,233.8 340.0,234.3 339.8,235.8 339.0,236.3 338.8,239.6 338.0,240.1 337.8,242.1 337.0,242.6 336.8,243.9 336.0,244.1 335.8,246.7 335.0,246.9 335.0,256.0 335.8,255.7 336.0,253.2 336.8,253.0 337.0,251.7 337.8,251.2 338.0,250.2 338.8,249.7 339.0,247.2 339.8,246.7 340.0,245.1 340.8,244.6 341.1,243.1 342.8,242.9 343.1,241.9 343.8,241.4 344.1,239.8 345.1,239.1 345.8,238.3 346.1,236.3 346.9,235.8 347.1,234.0 348.1,233.0 349.1,232.0 350.1,231.0 351.1,230.0 352.2,229.0"/><polygon fill="#00F0FF" points="356.9,229.0 356.2,230.0 355.9,231.8 355.2,232.3 354.9,234.8 354.2,235.3 353.9,236.8 353.2,237.3 352.9,238.8 352.2,239.3 351.9,241.9 351.1,242.4 350.9,246.9 350.1,247.4 349.9,250.7 349.1,251.2 348.9,259.8 349.9,260.0 350.1,258.0 350.9,257.5 351.1,254.2 351.9,253.7 352.2,250.2 352.9,249.7 353.2,246.9 353.9,246.4 354.2,244.1 354.9,243.6 355.2,242.4 355.9,241.9 356.2,239.1 356.9,238.6 357.2,236.1 358.0,235.6 358.2,233.8 359.0,233.3 359.2,232.0 360.0,232.0 360.0,238.8 359.2,239.3 359.0,242.9 358.0,243.4 358.0,247.2 356.9,247.7 356.9,252.7 358.0,253.0 358.2,250.9 359.0,250.7 359.2,248.2 360.0,247.7 360.2,244.6 361.0,244.1 361.2,242.1 362.0,241.6 362.0,239.1 363.0,238.6 364.0,237.8 364.0,235.3 365.0,234.6 366.0,233.8 366.0,232.8 367.0,232.0 367.3,230.0 368.1,229.5 368.1,229.0"/><polygon fill="#00F0FF" points="374.1,229.0 375.0,229.0 375.0,241.9 374.4,242.1 374.1,244.4 373.3,244.9 373.1,246.4 372.3,246.9 371.3,247.9 371.1,248.9 369.3,249.2 369.1,250.7 368.3,251.2 368.1,256.0 367.3,256.2 367.3,257.0 368.1,257.3 368.1,262.0 364.0,262.0 364.3,260.3 365.0,259.8 365.3,256.2 366.0,255.7 366.3,251.7 367.0,251.2 367.3,244.9 368.1,244.1 368.3,239.8 369.1,239.3 369.3,236.6 370.1,235.8 370.3,234.3 371.3,233.5 372.1,232.3 372.8,231.8 373.1,230.0"/><polygon fill="#00F0FF" points="347.1,244.9 347.9,245.1 347.9,249.2 347.1,249.7 346.9,258.3 346.1,258.8 345.8,262.0 339.0,262.0 339.3,260.3 340.0,259.8 340.3,258.3 341.1,257.8 342.1,257.0 343.1,256.5 343.8,255.7 344.1,252.2 344.8,251.7 345.1,249.2 345.8,248.7 346.1,246.2"/></g><g clip-path="url(#q16)"><rect x="374" y="229" width="40" height="33" fill="#00F0FF"/><polygon fill="#FFFF00" points="380.1,229.0 381.1,229.0 381.1,230.5 380.1,231.0 380.1,235.8 379.0,236.3 379.0,240.6 378.0,241.1 377.8,243.9 377.0,244.4 376.8,246.7 376.0,247.2 375.8,249.7 375.0,250.2 375.0,258.8 376.0,259.8 376.8,259.8 377.0,258.8 378.0,258.3 379.0,257.0 379.0,256.2 380.1,255.7 380.1,253.5 381.1,252.7 381.3,251.2 382.1,250.7 382.3,249.2 383.1,248.7 383.3,247.2 384.1,246.7 384.3,246.2 387.1,245.9 388.1,244.6 388.4,243.1 389.1,242.6 389.4,241.1 390.1,240.6 391.2,239.3 392.2,238.3 393.9,238.1 394.9,236.8 395.9,235.8 397.0,234.8 397.2,233.3 398.2,232.3 399.0,232.0 399.2,232.8 401.0,232.8 401.2,231.0 402.0,230.8 402.0,229.0 410.1,229.0 410.1,231.8 409.1,232.0 408.3,233.0 408.1,234.6 407.3,235.1 407.1,237.8 405.3,238.1 404.8,238.8 403.5,238.8 402.8,238.1 401.8,237.3 400.2,237.3 399.2,238.3 398.2,239.1 397.2,240.1 397.0,241.6 395.9,242.1 395.2,243.1 394.9,245.9 394.2,246.4 393.9,247.9 393.2,248.4 392.9,250.9 392.2,251.5 391.9,253.7 390.9,254.2 390.1,255.2 389.1,256.2 388.1,257.0 387.9,258.8 387.1,259.3 387.1,262.0 374.0,262.0 374.0,242.1 375.0,241.6 375.0,239.8 376.0,239.3 376.0,238.1 377.0,237.6 377.0,235.3 378.0,234.8 378.0,233.0 379.0,232.5 379.0,230.3 380.1,229.8"/><polygon fill="#FFFF00" points="414.0,243.9 413.1,244.1 412.9,245.7 411.8,246.4 411.1,247.4 410.1,248.2 409.3,248.9 408.3,249.2 407.3,250.2 407.1,251.5 406.3,252.0 405.3,253.0 404.3,254.0 403.3,255.0 402.0,255.2 401.2,256.2 400.2,257.0 399.2,258.0 398.2,258.5 397.2,259.5 396.2,260.3 395.2,261.3 394.9,262.0 413.1,262.0 413.1,258.0 414.0,257.8"/></g></g>
<g clip-path="url(#c12)"><polygon points="335.0,262.0 413.0,262.0 413.0,327.0 335.0,327.0"/><polygon fill="#00F0FF" points="337.5,262.0 345.9,262.0 344.4,266.0 343.0,270.0 341.5,271.9 339.0,276.9 338.0,278.9 337.5,282.9 336.0,285.4 335.8,288.8 335.0,288.8 335.0,272.9 335.8,272.9 336.0,268.0 337.0,266.0"/><polygon fill="#00F0FF" points="344.9,285.9 344.9,294.8 344.4,301.8 343.9,309.7 343.7,319.6 343.0,327.0 338.0,327.0 338.0,317.7 338.5,310.7 339.0,304.7 337.0,305.7 335.8,306.7 335.8,317.7 335.0,318.2 335.0,300.8 336.0,299.8 337.0,297.8 339.0,294.8 339.5,290.8 341.0,288.8 342.5,288.3 343.9,286.4"/><polygon points="339.0,296.8 340.0,297.3 340.0,300.8 339.0,304.7 338.5,310.7 338.0,311.7 338.3,303.7 338.8,299.8"/><polygon points="340.0,324.1 341.0,324.1 341.0,327.0 340.0,327.0"/><polygon fill="#00F0FF" points="352.4,294.8 353.1,296.8 353.9,297.8 353.7,299.8 352.9,305.7 351.4,305.7 351.2,298.8 352.1,297.3"/><polygon fill="#00F0FF" points="364.3,262.0 367.8,262.0 367.3,266.0 366.3,270.9 364.8,275.9 363.3,279.9 363.1,285.9 364.3,288.8 364.8,296.8 364.8,305.7 363.8,313.7 362.8,317.7 362.0,322.6 361.8,327.0 351.4,327.0 351.9,323.6 352.9,319.6 354.4,315.7 356.4,311.7 357.4,303.7 358.7,297.8 358.9,286.8 359.4,278.9 360.3,273.9 361.3,270.0 362.8,266.0"/><polygon fill="#00F0FF" points="387.2,262.0 387.2,270.4 389.2,271.4 390.2,272.4 390.0,278.4 388.7,281.9 387.7,284.9 386.2,285.9 384.7,285.4 382.7,285.9 381.7,290.8 380.2,295.8 379.2,300.8 378.7,303.7 376.2,303.7 374.8,302.9 374.0,305.7 373.3,309.7 372.3,311.7 372.0,321.6 371.0,322.6 371.0,327.0 394.1,327.0 394.4,319.6 395.1,309.7 396.1,303.7 397.1,295.8 399.6,293.8 402.6,291.3 404.6,289.3 405.1,290.8 406.6,288.8 407.6,282.9 408.5,276.9 409.0,266.5 407.1,264.5 405.4,263.0 403.6,265.0 402.6,268.0 401.8,272.9 400.6,276.9 398.6,279.9 396.6,280.9 394.6,279.4 392.6,276.9 391.9,274.9 391.9,270.0 393.6,268.0 394.6,262.0"/><polygon fill="#00F0FF" points="412.0,265.0 413.0,265.0 413.0,266.0 412.0,266.0"/></g>
<g clip-path="url(#c13)"><polygon points="335.0,327.0 413.0,327.0 413.0,392.0 335.0,392.0"/><g clip-path="url(#q17)"><rect x="335" y="327" width="40" height="33" fill="#00F0FF"/><polygon fill="#FFFF00" points="335.0,327.0 337.0,327.0 337.0,344.7 336.0,344.9 336.0,339.1 335.0,338.9"/><polygon fill="#FFFF00" points="340.0,327.0 341.1,327.0 341.1,330.8 340.0,330.8"/><polygon fill="#FFFF00" points="343.1,327.0 351.1,327.0 351.1,334.8 350.1,335.1 350.1,344.9 349.1,345.2 348.9,353.0 348.1,353.2 347.9,355.8 347.1,356.0 347.1,360.0 340.0,360.0 340.0,352.0 341.1,351.7 341.1,347.9 342.1,347.7 342.1,343.1 343.1,342.9"/><polygon fill="#FFFF00" points="354.2,330.0 355.9,330.0 355.9,331.8 356.9,332.0 356.9,334.8 358.0,335.1 358.2,336.8 359.0,336.8 359.2,334.1 360.0,333.8 360.2,331.0 361.0,330.8 361.2,329.0 362.0,328.8 362.2,327.0 371.1,327.0 371.1,330.8 370.1,331.0 370.1,336.8 369.1,337.1 369.1,339.9 367.0,340.1 367.0,343.9 366.0,343.9 366.0,340.1 364.3,340.1 364.0,341.9 363.3,341.9 363.0,341.1 362.2,340.9 362.0,340.1 361.2,340.1 361.0,343.9 360.2,343.9 360.0,343.1 359.2,342.9 359.0,342.1 358.2,342.1 358.0,346.7 357.2,346.9 356.9,350.7 356.2,351.2 355.9,352.7 355.2,353.0 354.9,353.7 354.2,354.2 353.2,355.0 352.9,356.0 352.2,356.0 352.2,341.1 353.2,340.9 353.2,335.1 354.2,334.8"/><polygon fill="#FFFF00" points="370.1,344.2 372.1,344.2 372.1,347.7 373.1,348.2 373.1,349.7 374.1,350.2 374.1,351.7 375.0,352.0 375.0,360.0 367.0,360.0 367.0,358.0 369.1,357.8 369.1,353.0 370.1,352.7"/><polygon fill="#FFFF00" points="365.0,353.0 366.0,353.0 366.0,360.0 365.0,360.0"/></g><g clip-path="url(#q18)"><rect x="335" y="359" width="40" height="33" fill="#00F0FF"/><polygon fill="#FFFF00" points="335.0,367.8 336.0,368.1 336.0,371.1 335.0,371.4 335.0,373.1 336.0,372.9 337.0,371.9 337.0,365.1 338.0,365.1 338.0,367.8 339.0,368.1 339.0,375.9 340.0,376.2 340.0,392.0 339.0,392.0 339.0,389.3 338.0,389.0 338.0,392.0 335.0,392.0"/><polygon fill="#00F0FF" points="337.0,386.0 338.0,386.0 338.0,387.3 337.0,387.3"/><polygon fill="#FFFF00" points="340.0,359.0 347.1,359.0 347.1,361.8 346.1,362.0 345.8,363.8 345.1,364.0 345.1,366.3 345.8,366.6 346.1,376.7 346.9,376.9 347.1,376.2 347.9,376.2 348.1,379.7 348.9,379.9 349.1,392.0 345.8,392.0 345.8,382.2 345.1,382.2 345.1,392.0 344.1,392.0 344.1,376.9 343.1,376.7 343.1,364.0 342.1,364.0 342.1,366.8 341.1,366.8 341.1,364.0 340.0,363.8"/><polygon fill="#00F0FF" points="344.1,370.1 345.1,370.1 345.1,376.7 344.1,376.7"/><polygon fill="#FFFF00" points="342.1,384.0 343.1,384.0 343.1,392.0 342.1,392.0"/><polygon fill="#FFFF00" points="350.1,378.2 351.1,378.2 351.1,380.7 351.9,380.9 352.2,386.5 352.9,386.8 353.2,392.0 349.1,392.0 349.9,382.2 350.1,382.0"/><polygon fill="#FFFF00" points="363.0,362.0 364.0,362.0 364.0,364.8 365.0,365.1 365.0,369.6 364.3,369.8 364.0,374.1 363.0,374.4 362.0,375.4 361.2,376.2 361.0,376.9 360.2,376.9 360.0,376.2 359.0,375.9 359.0,368.3 361.0,368.1 361.2,368.8 362.0,368.6 362.2,366.1 363.0,365.8"/><polygon fill="#FFFF00" points="365.0,359.0 366.0,359.0 366.0,362.8 365.0,362.8"/><polygon fill="#FFFF00" points="365.3,375.1 366.0,375.1 366.0,392.0 365.0,392.0 365.0,385.0 364.3,384.7 364.0,379.2 365.0,378.9"/><polygon fill="#FFAA00" points="365.0,380.9 365.8,380.9 365.8,386.5 365.0,386.5"/><polygon fill="#FFFF00" points="367.0,359.0 375.0,359.0 375.0,385.0 374.1,384.7 374.1,377.9 372.3,377.9 372.1,378.7 369.3,378.7 369.1,376.4 368.3,376.2 368.1,375.1 367.0,374.9 366.3,373.9 366.0,366.1 367.0,365.8"/></g><g clip-path="url(#q19)"><rect x="374" y="327" width="40" height="33" fill="#FFFF00"/><polygon fill="#00F0FF" points="374.0,327.0 392.9,327.0 392.9,330.8 391.9,331.0 391.9,332.8 390.1,332.8 389.9,332.0 387.1,332.0 387.1,334.8 386.1,335.1 386.1,337.8 385.1,338.1 384.8,343.9 384.1,344.2 383.8,347.9 383.1,348.2 382.8,350.0 382.1,350.2 381.8,352.0 381.1,352.2 380.8,354.0 380.1,354.2 379.8,357.0 379.0,357.3 379.0,360.0 376.0,360.0 376.0,357.3 375.0,357.0 375.0,352.0 374.0,352.0"/></g><g clip-path="url(#q20)"><rect x="374" y="359" width="40" height="33" fill="#FFFF00"/><polygon fill="#00F0FF" points="376.0,359.0 379.0,359.0 379.0,361.8 378.0,362.0 378.0,364.8 377.0,365.1 377.0,366.8 376.0,366.8"/><polygon fill="#00F0FF" points="374.0,385.0 377.0,385.0 377.0,383.2 378.0,383.2 378.0,385.0 379.0,385.2 379.0,392.0 374.0,392.0"/><polygon fill="#00F0FF" points="408.1,371.1 409.1,371.1 409.1,379.9 410.1,380.2 410.1,382.0 408.3,382.7 408.1,392.0 407.1,392.0 407.1,373.1 408.1,372.9"/></g></g>
<g clip-path="url(#c20)"><polygon points="413.0,132.0 416.0,132.0 416.0,150.9 414.5,151.9 413.0,152.9"/><polygon points="415.0,151.9 417.0,153.9 419.5,158.8 421.0,161.8 421.0,171.8 419.8,174.7 418.0,174.5 415.8,171.3 415.0,166.8"/><polygon points="424.9,132.0 436.7,132.0 436.1,144.9 434.7,152.4 431.4,156.8 427.9,160.6 426.4,160.8 423.9,157.8 423.9,153.4 424.9,152.4"/><polygon points="451.3,132.0 462.7,132.0 462.5,149.9 461.2,157.8 459.2,163.8 456.2,170.3 455.9,183.7 457.2,186.2 461.7,189.1 464.7,192.6 467.2,195.6 467.2,197.0 451.3,197.0 448.3,193.6 444.8,191.1 441.3,190.1 437.8,193.1 434.9,197.0 421.0,197.0 422.9,191.6 425.9,191.1 429.4,192.6 432.4,191.6 433.9,187.7 434.7,178.7 435.4,171.8 436.9,165.8 439.3,160.3 442.8,157.3 447.8,156.4 450.0,154.4 450.6,143.9"/><polygon points="473.6,132.0 485.0,132.0 485.0,141.9 486.2,145.9 487.5,154.9 489.0,158.3 491.0,160.3 491.0,178.7 489.5,176.7 487.0,169.8 484.6,164.8 480.6,160.8 478.6,153.9 476.1,145.9 474.1,140.0"/><polygon points="469.2,158.0 470.6,158.6 471.6,162.8 472.6,168.8 475.6,171.8 478.1,174.7 480.6,180.7 483.6,186.7 486.1,190.6 487.0,197.0 474.6,197.0 472.6,191.6 471.6,185.7 470.6,179.7 468.7,175.7 466.2,172.7 466.2,164.8 467.2,160.8"/></g>
<g clip-path="url(#c21)"><polygon points="413.0,199.0 415.0,199.5 417.0,202.0 419.0,202.5 420.5,200.5 421.0,197.0 433.9,197.0 433.4,200.0 432.9,206.9 431.4,211.9 431.2,219.9 433.4,221.4 436.4,222.8 437.8,221.4 439.3,217.4 440.8,216.9 442.8,218.4 442.8,224.8 440.3,225.8 438.3,226.8 437.8,231.8 436.9,236.8 436.4,242.2 432.4,242.7 431.9,241.7 427.9,241.2 424.9,240.2 422.9,240.2 421.9,243.7 420.0,245.7 419.5,247.7 417.0,248.2 415.0,250.7 414.5,255.6 413.0,257.6"/><polygon fill="#00F0FF" points="413.0,222.8 415.0,221.8 417.0,223.3 417.0,231.8 415.0,235.8 415.0,240.7 413.0,243.7"/><polygon points="436.9,262.0 437.4,256.6 438.8,251.2 441.3,246.7 444.8,241.7 447.3,237.7 448.8,235.3 451.3,233.0 454.2,233.3 456.7,235.3 459.2,237.7 461.2,241.7 462.7,245.7 464.2,247.7 467.2,248.7 470.1,251.2 472.6,253.7 475.1,254.1 477.6,256.6 480.6,260.1 481.1,262.0"/><polygon points="452.3,197.0 468.2,197.0 469.2,200.0 470.6,203.5 471.6,206.9 473.1,210.9 474.6,214.4 477.6,216.4 479.6,218.4 481.6,221.8 482.6,223.8 485.1,224.3 487.0,223.8 488.0,226.8 489.0,229.8 489.5,232.8 491.0,233.8 491.0,247.7 490.0,246.7 488.5,244.2 485.6,243.7 483.1,242.2 481.1,239.7 478.6,236.3 476.6,233.8 474.1,230.8 471.6,228.8 470.6,226.8 468.2,223.3 465.2,220.4 462.7,217.4 460.2,214.4 458.2,211.9 456.2,208.4 454.2,204.5 453.3,200.0"/><polygon points="476.1,197.0 488.0,197.0 488.5,199.0 491.0,200.0 491.0,223.3 489.0,222.8 487.0,219.9 486.5,215.9 485.6,211.9 483.6,207.9 481.1,205.9 480.6,201.0 478.6,199.5"/></g>
<g clip-path="url(#c22)"><polygon points="413.0,262.0 491.0,262.0 491.0,327.0 413.0,327.0"/><polygon fill="#00F0FF" points="413.0,262.0 436.1,262.0 435.4,265.0 434.4,269.0 433.9,274.9 433.9,281.9 432.4,282.4 431.4,282.9 429.9,281.9 428.4,278.9 427.4,275.9 425.9,272.9 424.7,270.9 423.4,270.0 422.1,271.9 421.0,274.9 420.0,277.9 419.0,280.4 417.5,281.7 416.0,281.4 414.8,278.9 414.0,274.9 413.0,273.9"/><polygon fill="#00F0FF" points="431.4,287.8 432.4,289.8 433.4,288.8 433.9,285.4 435.4,285.9 436.4,288.3 437.4,291.3 437.8,296.8 439.0,297.8 438.6,300.3 436.4,301.0 436.1,306.7 436.9,310.7 437.8,313.7 437.6,318.2 436.4,320.6 435.4,324.1 434.4,327.0 431.4,327.0 430.4,324.1 429.4,320.6 428.9,314.2 427.9,313.7 428.9,310.7 429.9,307.7 429.9,300.8 430.9,295.8 431.1,290.8"/><polygon fill="#00F0FF" points="454.2,264.0 456.7,264.5 459.2,266.0 461.2,268.0 462.7,270.4 463.7,273.4 465.2,275.4 467.2,277.4 470.1,278.4 472.1,280.4 474.1,282.4 474.6,284.4 476.6,286.4 478.6,288.8 480.1,290.8 482.1,291.0 482.1,301.8 483.1,303.7 483.4,307.7 485.1,309.7 486.1,313.7 487.0,315.7 487.5,318.7 488.5,321.6 489.0,327.0 446.0,327.0 446.0,308.7 446.8,305.7 447.0,292.8 447.8,291.8 448.0,274.9 449.0,270.9 450.0,268.0 451.3,266.0 452.8,264.5"/><polygon fill="#00F0FF" points="482.1,262.0 491.0,262.0 491.0,278.9 490.0,277.9 489.3,272.9 487.5,270.0 486.1,268.0 484.1,265.5 482.6,263.5"/><polygon fill="#00F0FF" points="441.0,314.9 442.0,314.9 442.0,316.2 441.0,316.2"/><polygon fill="#00F0FF" points="432.9,281.4 434.1,280.9 435.7,285.9 436.4,288.3 434.1,288.3 433.9,285.4 433.2,283.4"/></g>
<g clip-path="url(#c23)"><polygon points="413.0,327.0 491.0,327.0 491.0,392.0 413.0,392.0"/><polygon fill="#00F0FF" points="415.0,392.0 415.0,352.8 416.5,350.4 417.5,346.9 419.0,343.4 420.0,342.9 421.4,344.9 422.9,348.4 423.9,350.9 424.9,351.8 425.9,350.9 426.9,347.4 427.9,342.9 428.7,337.9 429.9,335.0 430.9,332.0 432.1,329.5 432.1,327.0 434.9,327.0 434.9,334.0 433.4,336.9 432.4,340.4 431.4,342.9 431.1,361.8 431.4,379.7 431.9,386.6 431.9,392.0"/><polygon fill="#00F0FF" points="447.0,327.0 491.0,327.0 491.0,392.0 478.1,392.0 478.1,386.6 478.8,382.7 479.1,375.7 480.1,374.7 481.1,372.2 482.6,374.7 483.1,372.7 482.1,369.7 481.6,366.3 478.1,365.3 477.6,363.3 477.1,364.0 474.4,363.8 473.6,359.8 472.6,354.8 471.6,348.9 470.6,343.9 469.7,338.9 468.7,335.0 467.7,331.0 466.7,329.0 461.2,329.2 459.2,330.5 457.7,333.0 456.7,336.9 455.7,340.9 454.7,344.9 453.7,347.9 452.3,350.9 451.3,353.8 450.3,357.8 449.8,361.8 449.0,361.8 448.3,354.8 447.3,346.9 446.3,334.0 447.0,333.0"/><polygon fill="#00F0FF" points="449.0,373.2 451.0,373.2 451.3,378.7 452.3,382.7 452.8,388.6 453.3,392.0 448.0,392.0 448.0,381.2 448.8,378.7"/><polygon fill="#00F0FF" points="454.2,382.7 455.7,382.2 455.9,386.6 456.5,391.1 453.9,391.1 454.2,387.6"/><polygon points="489.0,327.0 491.0,327.0 491.0,336.9 489.0,337.4"/><polygon points="487.0,362.3 488.0,362.3 488.0,368.7 487.0,368.7"/><polygon points="489.0,389.1 491.0,389.1 491.0,392.0 489.0,392.0"/></g>
<g clip-path="url(#c30)"><polygon points="491.0,161.8 492.5,164.8 494.5,170.8 496.5,174.7 499.4,178.7 500.9,184.7 502.9,191.6 504.4,197.0 497.5,197.0 496.0,190.6 493.5,183.7 491.0,179.7"/><polygon points="496.0,132.0 500.9,132.0 500.9,147.4 498.0,150.4 496.0,150.9"/><polygon points="501.9,151.4 504.4,149.1 505.9,149.1 506.9,152.9 507.4,160.8 509.4,166.8 510.9,171.8 512.4,178.7 514.9,185.7 517.0,193.6 517.8,197.0 512.4,197.0 510.4,188.7 507.9,181.7 505.9,174.7 501.9,168.8"/><polygon points="505.9,132.0 521.8,132.0 522.3,146.9 523.0,158.8 521.8,159.0 521.0,150.4 519.6,151.4 519.0,160.8 517.3,161.8 517.0,172.7 514.9,168.8 512.4,163.8 509.4,156.8 508.4,150.9 506.1,144.9"/><polygon fill="#00F0FF" points="509.9,132.0 511.9,132.0 511.9,136.5 509.9,136.5"/><polygon fill="#00F0FF" points="515.8,132.0 517.0,132.0 517.0,139.5 515.8,139.5"/><polygon points="517.0,172.3 519.8,173.2 521.3,178.7 522.8,185.7 524.8,192.6 525.3,197.0 522.6,197.0 521.3,192.6 519.3,185.7 517.6,178.7"/><polygon points="525.3,132.0 528.3,132.0 529.3,141.9 530.8,151.9 532.7,161.8 535.2,171.8 537.2,181.7 538.9,187.7 537.9,187.7 535.2,181.7 532.7,171.8 530.3,161.8 527.8,151.9 525.8,141.9"/><polygon points="531.3,132.0 534.7,132.0 535.2,141.9 537.2,151.9 539.2,161.8 541.2,171.8 542.7,178.7 538.7,178.7 537.2,171.8 534.7,161.8 533.2,151.9 531.7,141.9"/><polygon points="524.3,164.8 525.3,165.3 526.8,170.8 528.8,176.7 530.3,182.7 532.2,189.6 533.7,197.0 530.8,197.0 529.3,190.6 527.3,182.7 525.3,174.7 524.3,169.8"/><polygon points="538.7,178.7 542.7,178.7 544.7,177.9 545.5,179.9 548.6,182.2 550.6,186.7 553.1,192.6 554.1,197.0 536.7,197.0 537.2,191.6 538.5,186.2"/><polygon points="539.2,145.9 540.0,145.9 540.0,151.4 539.2,151.4"/><polygon points="545.2,132.0 560.1,132.0 560.1,151.9 561.6,155.9 564.5,159.8 567.5,161.8 569.0,161.8 569.0,197.0 557.1,197.0 557.1,191.6 555.6,183.7 553.1,175.7 550.6,169.8 549.6,163.8 548.1,156.8 547.9,142.9 547.2,140.9 545.2,140.4"/><polygon fill="#00F0FF" points="556.1,132.0 557.8,132.0 557.8,135.0 556.8,136.5 556.1,136.0"/></g>
<g clip-path="url(#c31)"><polygon points="491.0,201.0 493.0,202.0 495.0,205.9 497.0,209.9 499.0,213.9 500.9,218.9 502.9,223.8 505.4,228.8 507.9,233.8 510.4,237.7 512.4,241.7 512.9,248.7 511.4,252.0 508.4,249.7 506.4,245.7 504.4,241.7 501.9,237.7 499.0,233.8 496.0,230.8 493.0,228.8 491.0,225.8"/><polygon points="491.0,235.8 492.0,236.8 493.5,241.7 496.0,245.7 498.5,249.7 500.9,253.7 503.4,257.6 506.4,261.1 506.9,262.0 499.0,262.0 497.5,259.6 495.5,255.6 493.0,251.2 491.0,249.7"/><polygon points="498.0,197.0 505.9,197.0 506.9,201.0 509.4,205.9 511.4,210.9 513.4,215.9 515.4,220.9 517.3,225.8 519.8,230.8 521.8,235.8 524.3,239.7 525.3,243.7 527.3,247.7 528.3,252.7 529.8,256.6 530.8,262.0 525.8,262.0 524.8,258.6 522.8,253.7 521.3,249.7 519.3,245.7 517.3,240.7 515.4,235.8 513.4,231.8 511.4,227.8 509.4,223.8 507.4,219.9 505.4,214.9 503.4,209.9 501.4,205.0 499.4,201.0"/><polygon points="511.9,197.0 517.8,197.0 519.3,201.0 520.8,205.9 522.8,210.9 524.3,215.9 526.3,219.9 528.3,224.8 530.3,229.8 532.2,233.8 533.7,237.7 534.7,242.7 536.2,246.7 536.7,251.7 537.2,256.6 537.2,262.0 534.2,262.0 533.7,255.6 532.7,250.7 531.3,245.7 529.8,240.7 528.3,236.8 526.3,231.8 524.3,227.8 522.3,223.8 520.3,218.9 518.3,213.9 516.3,208.9 514.9,205.0 513.4,201.0"/><polygon points="521.8,197.0 525.8,197.0 527.3,202.0 528.8,206.9 530.8,211.9 532.7,216.9 534.7,221.8 536.7,226.8 538.7,230.8 540.7,235.8 542.2,239.7 542.7,243.7 540.7,246.7 540.2,249.7 538.7,249.7 539.2,244.7 538.7,240.7 537.2,235.8 535.2,230.8 533.2,226.8 531.3,221.8 529.3,216.9 527.3,211.9 525.3,206.9 523.3,201.0"/><polygon points="528.8,197.0 532.2,197.0 533.2,203.0 533.9,210.9 533.5,211.9 532.2,205.9 530.8,203.0 530.3,200.0"/><g clip-path="url(#q21)"><rect x="530" y="197" width="40" height="33" fill="#00F0FF"/><polygon fill="#FFFF00" points="537.1,197.0 570.0,197.0 570.0,213.9 566.1,213.9 565.1,212.6 563.3,211.9 562.3,210.6 561.3,209.9 557.2,209.9 556.2,208.6 555.5,207.8 554.2,208.9 554.0,211.9 553.0,212.1 553.0,214.7 551.9,214.9 551.7,215.9 548.9,216.2 548.7,218.9 547.9,219.2 547.9,222.0 547.2,222.0 546.9,218.9 546.1,218.7 545.9,217.2 544.9,216.7 544.6,215.9 543.1,215.7 542.9,214.2 542.1,213.9 541.9,211.1 540.8,210.6 540.1,209.6 539.8,207.8 539.1,207.6 538.8,205.1 538.1,204.8 537.8,200.0 537.1,199.8"/><polygon fill="#FFFF00" points="547.9,223.0 548.9,223.0 548.9,225.8 547.9,225.8"/><polygon fill="#FFFF00" points="548.9,227.0 549.9,227.0 549.9,230.0 548.9,230.0"/><polygon fill="#FFFF00" points="544.9,229.0 545.9,229.0 545.9,230.0 544.9,230.0"/><polygon fill="#FFFF00" points="530.0,197.0 532.0,197.0 532.8,198.0 533.0,203.8 533.8,204.1 534.0,211.9 533.0,211.6 532.0,210.6 531.8,207.3 531.0,206.8 530.8,203.1 530.0,202.8"/><polygon fill="#FFFF00" points="534.0,201.0 534.8,201.0 535.0,203.1 536.1,203.3 536.1,207.8 536.8,208.1 537.1,212.9 537.8,213.1 538.1,217.9 539.1,218.2 539.1,219.7 539.8,220.0 540.1,222.7 541.1,223.2 541.1,225.0 542.1,225.3 542.1,227.8 542.9,228.3 543.1,230.0 540.1,230.0 539.8,227.8 539.1,227.3 538.8,224.8 538.1,224.2 537.8,221.2 537.1,220.7 536.8,217.2 536.1,216.7 535.8,214.2 535.0,213.7 534.8,203.8 534.0,203.6"/><polygon fill="#FFFF00" points="530.0,215.9 530.8,216.2 531.0,217.9 532.0,218.2 532.0,221.5 533.0,222.0 533.8,223.0 534.0,225.8 535.0,226.3 535.8,227.8 536.8,228.8 537.1,230.0 532.0,230.0 531.8,228.3 531.0,227.8 530.8,226.3 530.0,226.0"/></g><g clip-path="url(#q22)"><rect x="530" y="229" width="40" height="33" fill="#FFFF00"/><polygon fill="#00F0FF" points="550.2,229.0 570.0,229.0 570.0,246.9 568.9,247.4 568.1,248.2 567.8,249.9 567.1,249.9 567.1,246.4 566.1,245.4 565.1,244.6 563.3,243.9 563.1,242.4 562.0,241.6 561.0,240.9 560.0,239.8 559.8,238.1 559.0,237.8 558.8,236.1 555.2,235.8 555.0,235.1 552.2,234.8 551.9,233.0 550.9,232.5 550.7,231.0 550.2,230.8"/><polygon fill="#00F0FF" points="530.0,229.0 532.0,229.0 532.0,231.0 533.0,231.3 533.0,233.0 534.0,233.3 534.0,236.1 535.0,236.3 535.0,239.8 536.1,240.4 536.3,241.9 537.1,242.4 537.1,245.9 538.1,246.2 538.1,249.9 539.8,249.9 540.1,248.2 540.8,247.7 541.1,245.1 541.9,244.6 542.1,243.1 542.9,243.1 543.1,245.7 543.9,245.9 544.1,248.9 545.1,249.2 545.1,251.2 546.1,251.7 546.1,253.7 547.2,254.0 547.9,255.2 548.2,256.8 549.2,257.3 549.2,258.8 550.9,259.0 551.2,260.3 552.2,261.0 553.0,262.0 530.0,262.0"/><polygon fill="#FFFF00" points="530.0,234.8 530.8,235.1 531.0,237.8 531.8,238.1 532.0,240.6 532.8,241.1 533.0,243.6 533.8,244.1 534.0,246.7 534.8,247.2 535.0,251.7 535.8,252.2 536.1,254.7 537.1,255.2 537.1,262.0 534.0,262.0 533.8,259.3 533.0,258.8 532.8,256.2 532.0,255.7 531.8,251.2 531.0,250.7 530.8,248.2 530.0,247.9"/><polygon fill="#FFFF00" points="539.1,252.0 539.8,252.0 540.1,254.5 540.8,254.7 541.1,255.7 541.9,256.2 542.1,257.8 542.9,258.3 543.1,259.8 543.9,260.3 544.1,262.0 540.1,262.0 539.8,259.3 539.1,258.8"/><polygon fill="#00F0FF" points="537.1,229.0 540.1,229.0 540.1,231.5 540.8,232.0 541.1,234.8 542.1,235.3 542.1,239.8 541.1,239.8 540.8,238.1 540.1,237.6 539.8,235.6 539.1,235.1 538.8,233.5 538.1,233.0 537.8,231.0 537.1,230.5"/><polygon fill="#00F0FF" points="544.1,236.1 546.1,236.1 546.9,237.1 547.2,239.6 547.9,240.1 548.2,243.6 548.9,244.1 549.2,245.9 549.9,246.2 550.2,249.7 550.9,250.2 551.2,253.0 551.9,253.5 552.2,254.7 553.0,255.2 553.2,258.0 554.2,259.3 555.0,260.8 555.0,262.0 555.0,261.3 554.0,260.3 553.0,259.3 552.2,258.3 551.2,257.0 550.2,256.5 549.9,255.2 549.2,254.2 548.2,253.7 548.2,251.2 547.2,250.7 547.2,248.9 546.1,248.4 546.1,246.2 545.1,245.7 544.9,242.1 544.1,241.6"/><polygon fill="#00F0FF" points="543.1,229.0 544.9,229.0 544.9,229.8 543.1,229.8"/><polygon fill="#00F0FF" points="547.4,229.0 548.9,229.0 548.9,232.0 549.9,232.5 549.9,237.8 550.9,238.3 550.9,240.9 550.1,240.9 549.9,238.6 549.2,238.1 548.9,235.6 548.2,235.1 547.9,232.0 547.4,231.5"/><polygon fill="#00F0FF" points="570.0,258.0 569.1,258.3 568.9,260.0 568.1,260.3 567.8,262.0 570.0,262.0"/></g></g>
<g clip-path="url(#c32)"><polygon points="491.0,287.8 492.5,285.9 494.5,283.4 496.5,280.4 497.5,281.9 498.5,284.9 499.4,289.8 499.0,296.8 499.1,304.7 500.9,308.7 502.4,313.7 504.4,317.7 504.9,321.6 505.1,327.0 491.0,327.0"/><polygon points="499.9,262.0 507.4,262.0 508.4,266.0 509.4,270.4 510.9,273.9 512.4,276.9 513.4,281.9 514.1,287.8 514.9,293.8 515.4,301.8 516.3,307.7 517.3,313.7 518.0,319.6 518.8,327.0 513.4,327.0 512.4,319.6 511.4,313.7 510.9,306.2 509.4,304.7 508.7,301.8 508.9,295.8 508.4,290.8 507.9,285.4 506.4,284.4 505.4,279.9 503.9,274.9 502.9,270.0 501.4,266.0"/><polygon points="514.4,264.0 515.8,262.0 516.8,262.0 518.3,266.0 519.8,269.0 521.8,271.9 523.3,274.9 524.3,278.9 525.0,283.9 525.8,288.8 526.0,295.8 526.3,303.7 526.3,307.7 527.3,313.7 527.6,321.6 527.8,327.0 525.3,327.0 524.8,321.6 524.3,315.7 522.8,309.7 522.3,303.7 521.3,297.8 520.8,291.8 519.3,286.8 517.8,281.9 516.3,276.9 514.9,272.9 514.1,268.0"/><polygon points="525.8,262.0 530.3,262.0 531.7,268.0 532.7,272.9 533.7,278.9 534.5,283.9 534.9,291.8 535.2,301.8 535.2,313.7 534.9,321.6 534.7,327.0 533.2,327.0 532.2,325.6 531.9,321.6 531.7,313.7 531.3,306.7 531.0,299.8 530.6,291.8 530.0,283.9 529.3,276.9 528.3,271.9 527.3,267.0"/><polygon fill="#0014C8" points="527.8,300.0 529.3,300.0 529.3,305.0 527.8,305.0"/><g clip-path="url(#q23)"><rect x="530" y="262" width="40" height="33" fill="#00F0FF"/><polygon fill="#FFFF00" points="530.0,266.0 531.0,266.0 531.0,269.8 532.0,270.1 532.0,274.9 533.0,275.1 533.0,279.2 534.0,279.4 534.0,283.9 535.0,284.2 535.0,295.0 530.0,295.0"/><polygon fill="#FFD200" points="532.0,290.0 532.8,290.0 532.8,295.0 532.0,295.0"/><polygon fill="#FFFF00" points="535.0,262.0 538.1,262.0 538.1,269.1 539.1,269.3 539.1,274.9 540.1,275.1 540.1,281.9 540.8,282.2 541.1,293.8 542.1,294.3 542.1,295.0 538.1,295.0 538.1,277.1 537.1,276.9 537.1,271.1 536.1,270.8 536.1,267.0 535.0,266.8"/><polygon fill="#FFFF00" points="540.1,262.0 544.9,262.0 545.1,264.0 546.1,264.3 546.1,265.8 547.2,266.0 547.2,267.8 548.2,268.1 548.2,270.8 549.2,271.1 549.2,273.9 549.9,274.1 549.9,275.6 549.2,275.9 548.9,277.6 548.2,277.9 547.9,276.9 547.2,276.6 546.9,274.9 545.1,274.6 544.9,272.8 544.1,272.6 543.9,271.1 543.1,270.8 542.9,269.1 542.1,268.8 541.9,266.0 541.1,265.8 540.8,264.0 540.1,263.8"/><polygon fill="#FFFF00" points="551.2,262.0 553.0,262.0 553.0,265.0 554.0,265.3 554.0,270.8 553.0,270.8 553.0,268.1 551.9,267.8 551.9,264.0 551.2,263.8"/><polygon fill="#FFFF00" points="555.0,262.0 568.1,262.0 568.1,264.8 567.1,265.0 567.1,267.8 566.1,268.1 566.1,273.6 565.1,274.1 564.8,279.9 564.1,280.2 563.8,281.7 563.1,281.7 563.1,276.1 563.8,275.9 564.1,272.8 563.1,272.6 562.8,269.1 562.0,268.8 561.8,266.0 561.0,265.8 560.0,264.5 559.3,264.0 559.0,270.8 558.0,270.8 558.0,268.1 557.0,267.8 557.0,265.0 556.0,264.8 556.0,263.3 555.0,263.0"/><polygon fill="#FFFF00" points="569.1,265.0 570.0,265.0 570.0,281.9 569.1,282.2 568.9,283.7 568.1,283.9 567.8,291.0 567.1,291.3 567.1,295.0 565.1,295.0 565.1,289.2 566.1,288.7 566.1,278.1 567.1,277.6 567.1,275.1 568.1,274.6 568.1,269.1 569.1,268.8"/><polygon fill="#FFFF00" points="545.1,285.0 546.9,285.0 546.9,288.5 547.9,288.7 548.2,288.0 548.9,288.0 549.2,288.7 549.9,288.5 550.9,287.7 550.9,285.0 551.9,285.0 551.9,287.7 553.0,288.0 553.0,295.0 548.2,295.0 547.9,294.0 547.2,294.0 546.9,295.0 546.1,295.0 546.1,288.0 545.1,287.7"/><polygon fill="#FFFF00" points="555.0,290.0 556.0,290.0 556.0,295.0 555.0,295.0"/><polygon fill="#FFFF00" points="562.0,285.0 563.1,285.0 563.1,295.0 561.0,295.0 561.0,293.3 562.0,292.8"/></g><g clip-path="url(#q24)"><rect x="530" y="294" width="40" height="33" fill="#00F0FF"/><polygon fill="#FFFF00" points="530.0,294.0 535.0,294.0 535.0,321.8 534.0,322.0 533.8,325.8 533.0,325.8 532.8,324.8 532.0,324.5 532.0,313.9 531.0,313.7 531.0,299.0 530.0,298.8"/><polygon fill="#FFD200" points="532.0,294.0 533.0,294.0 533.0,298.8 533.8,299.0 533.8,303.6 533.0,303.3 532.8,301.6 532.0,301.3"/><polygon fill="#FFFF00" points="538.1,294.0 542.1,294.0 542.1,301.8 543.1,302.1 543.1,327.0 541.1,327.0 541.1,322.3 540.1,321.8 539.1,320.7 539.1,309.1 538.1,308.9"/><polygon fill="#FFFF00" points="538.1,324.0 539.1,324.0 539.1,327.0 538.1,327.0"/><polygon fill="#FFFF00" points="546.1,294.0 557.0,294.0 557.0,316.2 557.2,322.8 558.0,323.3 558.0,327.0 545.1,327.0 544.9,300.1 546.1,299.8"/><polygon fill="#00F0FF" points="546.9,294.0 547.9,294.0 547.9,298.8 547.2,298.8"/><polygon fill="#00F0FF" points="553.0,294.0 557.0,294.0 557.0,295.0 555.2,295.0 555.2,301.1 555.0,300.8 554.2,300.6 554.0,297.0 553.0,296.5"/><polygon fill="#00F0FF" points="555.0,301.1 556.0,301.3 556.0,310.9 555.0,310.7"/><polygon fill="#00F0FF" points="550.2,301.1 551.9,301.1 551.9,307.9 553.0,308.1 553.0,313.7 555.0,314.2 555.2,315.2 556.0,315.9 556.2,322.3 557.0,323.0 557.1,327.0 550.2,327.0 550.2,324.0 550.9,323.8 550.9,312.2 550.2,311.9"/><polygon fill="#FFFF00" points="561.0,294.0 563.1,294.0 563.1,310.9 562.0,311.2 562.0,321.0 563.1,321.5 563.3,322.8 564.1,323.3 564.1,327.0 561.0,327.0"/><polygon fill="#FFFF00" points="565.1,294.0 567.1,294.0 567.1,298.5 566.1,299.0 566.1,307.9 565.1,307.9 565.1,301.1 564.1,300.8 564.1,298.3 565.1,298.0"/><polygon fill="#FFFF00" points="569.1,300.1 570.0,300.1 570.0,321.0 569.1,321.2 569.1,323.8 568.1,324.3 568.1,327.0 565.1,327.0 565.1,318.0 566.1,317.7 566.1,309.4 567.1,308.9 567.1,306.1 568.1,305.9 568.1,304.1 569.1,303.8"/></g></g>
<g clip-path="url(#c33)"><g clip-path="url(#q25)"><rect x="491" y="327" width="40" height="33" fill="#00F0FF"/><polygon fill="#FFFF00" points="491.0,327.0 506.1,327.0 506.1,330.8 507.1,331.3 507.1,333.8 508.2,334.3 508.2,336.1 508.9,336.3 508.9,341.9 508.2,342.1 508.2,344.7 508.9,345.2 508.9,357.8 509.9,358.3 509.9,360.0 507.1,360.0 507.1,357.3 506.1,356.8 505.6,356.0 504.9,356.5 504.1,357.3 503.1,357.8 502.1,357.8 501.1,356.8 501.1,347.2 500.1,346.7 500.1,345.2 499.1,344.4 497.8,343.1 496.6,342.9 495.0,341.9 494.0,340.6 493.8,339.4 493.0,338.9 492.8,338.1 491.0,337.8"/><polygon fill="#FFFF00" points="511.2,327.0 519.0,327.0 519.0,342.9 520.0,343.1 520.0,350.7 521.0,351.2 521.3,352.7 522.3,353.7 523.3,354.8 524.1,355.8 524.8,356.3 525.1,360.0 519.0,360.0 519.0,354.2 518.0,353.7 518.0,351.2 517.0,350.7 517.0,349.2 516.0,348.7 516.0,347.2 515.0,346.7 514.0,345.4 513.7,344.2 512.9,343.9 512.9,336.1 511.9,335.8 511.9,330.0 511.2,329.8"/><polygon fill="#FFFF00" points="524.1,327.0 528.1,327.0 528.1,329.8 529.1,330.3 529.1,333.8 530.1,334.3 530.1,339.6 531.0,339.9 531.0,350.0 530.1,350.2 530.1,355.8 529.3,355.8 529.1,355.0 528.3,354.8 528.1,354.0 527.1,353.7 527.1,348.9 526.1,348.7 526.1,336.1 525.1,335.8 525.1,330.0 524.1,329.8"/></g><g clip-path="url(#q26)"><rect x="530" y="327" width="40" height="33" fill="#00F0FF"/><polygon fill="#FFFF00" points="530.0,340.1 531.0,340.1 531.0,350.0 530.0,350.0"/><polygon fill="#FFFF00" points="538.1,327.0 539.1,327.0 539.1,350.7 538.1,351.0 537.8,350.0 537.1,350.0 537.1,360.0 534.0,360.0 534.0,358.0 533.0,357.8 533.0,351.2 534.0,351.0 534.0,346.2 536.1,345.9 536.1,342.1 537.1,341.9 537.1,329.0 538.1,328.8"/><polygon fill="#FFFF00" points="541.1,327.0 543.1,327.0 543.1,334.8 543.9,335.1 544.1,348.7 545.1,349.2 545.1,355.8 545.9,356.3 545.9,360.0 545.1,360.0 544.9,359.0 544.1,359.0 543.9,360.0 540.1,360.0 540.1,357.3 542.1,357.0 542.1,336.3 541.1,336.1"/><polygon fill="#FFFF00" points="545.1,327.0 549.9,327.0 549.9,360.0 548.2,360.0 548.2,349.2 547.2,348.9 547.2,344.2 546.1,343.9 546.1,330.3 545.1,330.0"/><polygon fill="#FFFF00" points="553.0,327.0 554.0,327.0 554.0,329.8 555.0,330.0 555.0,351.7 554.2,352.0 554.0,353.7 553.0,353.7"/><polygon fill="#FFFF00" points="551.9,357.0 553.0,357.0 553.0,360.0 551.9,360.0"/><polygon fill="#FFFF00" points="557.0,327.0 558.0,327.0 558.0,354.8 557.2,355.0 557.0,360.0 556.0,360.0 556.0,353.2 557.0,353.0"/><polygon fill="#FFFF00" points="559.0,335.1 560.0,335.1 560.0,338.9 559.0,338.9"/><polygon fill="#FFFF00" points="561.0,327.0 564.1,327.0 564.1,335.8 565.1,335.8 565.1,327.0 568.1,327.0 568.1,336.8 569.1,337.1 569.1,337.8 570.0,338.1 570.0,344.2 569.1,344.4 569.1,353.7 570.0,354.0 570.0,360.0 562.0,360.0 562.0,344.9 563.1,344.7 563.1,334.3 562.0,334.3 562.0,339.6 561.0,339.6"/><polygon fill="#FFFF00" points="560.0,341.4 561.0,341.1 561.0,344.2 562.0,344.2 562.0,344.9 561.0,344.9 561.0,360.0 559.0,360.0 559.0,358.0 560.0,357.8"/></g><g clip-path="url(#q27)"><rect x="491" y="359" width="40" height="33" fill="#00F0FF"/><polygon fill="#FFFF00" points="507.1,359.0 509.9,359.0 509.9,362.8 510.9,363.3 510.9,368.8 511.9,369.3 512.9,370.4 512.9,375.9 514.0,376.4 514.2,377.9 515.0,378.4 515.2,380.7 516.0,381.2 516.0,385.0 517.0,385.2 517.0,392.0 505.1,392.0 505.1,377.2 506.1,376.9 506.1,368.1 507.1,367.8"/><polygon fill="#00F0FF" points="508.2,388.0 508.9,388.0 508.9,390.8 507.1,390.8 507.1,390.0 508.2,389.8"/><polygon fill="#FFFF00" points="519.0,359.0 525.1,359.0 525.3,360.8 526.1,361.3 526.1,392.0 522.0,392.0 522.0,376.2 521.3,375.9 521.0,370.1 520.3,369.8 520.0,362.8 519.0,362.5"/><polygon fill="#FFFF00" points="530.1,362.0 531.0,362.0 531.0,392.0 529.1,392.0 529.1,373.4 530.1,373.1"/><polygon fill="#FFFF00" points="493.0,389.0 494.0,389.0 494.0,392.0 493.0,392.0"/><polygon fill="#FFFF00" points="495.0,386.0 496.0,386.0 496.0,392.0 495.0,392.0"/></g><g clip-path="url(#q28)"><rect x="530" y="359" width="40" height="33" fill="#00F0FF"/><polygon fill="#FFFF00" points="530.0,362.0 531.0,362.0 531.0,365.1 532.0,365.3 532.0,392.0 530.0,392.0"/><polygon fill="#FFFF00" points="534.0,359.0 536.8,359.0 536.8,375.7 537.8,376.2 538.1,392.0 536.1,392.0 536.1,376.2 535.0,375.9 535.0,368.1 534.0,367.8"/><polygon fill="#FFFF00" points="540.1,359.0 543.9,359.0 543.9,359.8 543.1,360.0 543.1,392.0 540.1,392.0"/><polygon fill="#FFFF00" points="545.1,359.0 546.1,359.0 546.9,360.0 547.2,366.6 547.9,367.1 548.2,392.0 545.1,392.0 545.1,380.9 546.1,380.7 546.1,369.1 545.1,368.8"/><polygon fill="#FFFF00" points="547.9,359.0 549.9,359.0 549.9,365.1 550.9,365.3 550.9,367.8 549.2,368.1 548.9,365.3 548.2,365.1"/><polygon fill="#FFFF00" points="550.9,365.3 551.9,365.1 551.9,380.7 550.2,380.7 550.2,368.8 550.9,368.6"/><polygon fill="#FFFF00" points="550.2,384.0 550.9,384.0 550.9,392.0 550.2,392.0"/><polygon fill="#FFFF00" points="551.9,359.0 553.0,359.0 553.0,359.8 551.9,359.8"/><polygon fill="#FFFF00" points="555.2,364.0 558.0,364.0 558.0,373.9 557.2,374.1 557.0,383.7 556.0,384.0 556.0,385.7 555.0,385.7 555.0,364.3"/><polygon fill="#FFFF00" points="558.0,359.0 561.0,359.0 561.0,361.5 560.3,361.8 560.0,362.8 559.3,362.8 559.0,361.3 558.0,361.0"/><polygon fill="#FFFF00" points="562.0,359.0 570.0,359.0 570.0,382.0 568.1,382.0 568.1,392.0 566.1,392.0 566.1,369.1 565.1,369.1 565.1,372.9 564.1,373.1 564.1,373.9 565.1,374.1 565.1,392.0 563.1,392.0 563.1,382.0 562.0,381.7 561.8,378.2 561.0,377.9 561.0,362.0 562.0,361.8"/><polygon fill="#FFFF00" points="559.0,368.1 560.0,368.1 560.0,374.9 559.0,374.9"/></g></g>
<g clip-path="url(#c40)"><polygon points="569.0,164.0 647.0,164.0 647.0,197.0 569.0,197.0"/><polygon points="569.0,161.0 570.0,159.2 571.0,156.2 572.0,153.2 573.0,150.1 574.0,148.1 576.1,148.1 576.1,149.7 577.1,149.7 577.3,148.1 578.0,145.1 579.1,144.6 579.1,132.0 596.0,132.0 596.0,152.7 597.7,152.7 598.2,151.9 599.0,152.2 599.0,154.7 599.8,155.2 599.8,156.7 599.0,157.2 598.7,160.7 597.7,161.7 597.2,164.3 596.7,165.0 569.0,165.0"/><polygon fill="#00F0FF" points="581.1,132.0 583.1,132.0 583.1,145.6 582.1,146.1 582.1,148.6 581.1,149.1 581.1,151.7 580.1,151.7 580.1,149.1 579.1,148.6 579.1,146.1 580.1,145.1 580.1,137.0 581.1,136.5"/><polygon fill="#00F0FF" points="584.1,148.1 584.9,148.1 585.1,151.7 586.9,152.2 586.9,159.2 585.9,160.0 585.1,159.7 585.1,156.2 584.1,155.2"/><polygon fill="#00F0FF" points="590.2,157.9 593.9,157.9 594.2,160.7 595.2,161.7 595.2,165.0 587.9,165.0 588.2,160.7 589.2,159.2"/><polygon points="602.0,159.2 606.1,159.2 606.1,165.0 600.0,165.0 600.3,163.8 601.3,162.3 601.3,160.7"/><polygon points="604.0,132.0 615.1,132.0 615.1,148.1 614.1,149.1 614.1,152.7 613.0,153.2 612.0,155.0 611.0,155.5 609.0,156.0 608.1,155.7 608.1,145.1 607.1,144.6 606.8,141.0 606.3,138.6 605.3,137.0 605.1,134.5"/><polygon points="621.1,132.0 632.2,132.0 632.2,145.6 633.2,146.6 634.2,149.1 634.2,151.7 635.2,152.2 636.0,154.2 636.0,159.2 637.0,160.2 637.0,165.0 628.9,165.0 628.9,160.2 628.2,159.7 628.2,156.2 627.2,155.2 626.9,153.2 624.9,150.9 623.1,150.9 622.1,153.2 622.1,162.3 623.1,163.3 623.1,165.0 614.1,165.0 614.1,161.2 614.8,160.7 615.1,155.2 616.1,152.2 618.1,150.1 620.1,148.6 621.1,147.6"/><polygon points="638.0,132.0 645.1,132.0 645.1,141.6 644.1,142.1 644.1,147.6 643.0,148.1 642.8,150.9 640.3,150.9 639.3,149.7 639.0,148.1 638.0,147.6"/><polygon fill="#00F0FF" points="587.9,164.0 594.9,164.0 594.9,164.8 597.0,164.8 597.0,164.0 600.0,164.0 600.0,166.5 599.3,167.0 599.2,170.6 598.2,171.1 598.0,174.8 597.0,175.6 596.5,178.6 595.2,180.1 594.2,182.2 593.2,184.2 592.2,186.2 591.2,187.5 590.9,188.9 589.9,188.7 589.9,181.4 590.9,180.9 590.9,175.1 590.2,174.8 589.9,173.3 586.9,170.6 586.9,168.3 587.9,167.8"/><polygon fill="#00F0FF" points="606.1,174.8 605.1,175.8 603.3,177.1 602.3,178.1 601.0,179.1 600.0,181.1 599.3,183.2 598.2,185.2 598.0,188.7 597.0,189.2 596.7,191.7 596.0,192.2 596.0,195.3 595.0,196.3 595.0,197.0 598.0,197.0 598.0,194.3 599.3,193.3 599.5,191.7 601.0,190.5 602.3,188.2 603.5,186.2 603.8,182.2 605.1,181.7 605.1,177.1 606.1,176.1"/><polygon fill="#00F0FF" points="606.1,164.0 614.1,164.0 614.1,169.0 613.0,170.3 613.0,172.8 614.6,172.8 616.1,171.3 617.8,171.1 618.8,172.1 618.8,181.7 617.8,182.7 616.1,184.7 615.1,187.7 614.1,190.2 613.0,192.7 612.0,193.0 611.9,176.1 610.8,175.1 608.0,174.8 606.1,174.8"/><polygon fill="#00F0FF" points="623.1,164.0 624.1,165.5 625.9,167.0 626.1,168.8 626.9,169.3 627.2,178.6 628.2,181.1 629.2,184.2 630.2,186.2 631.2,190.2 632.2,194.3 632.5,195.8 634.2,196.0 634.7,197.0 642.3,197.0 641.3,194.8 640.3,192.7 639.3,190.7 638.3,187.2 637.2,184.2 636.2,181.1 635.2,179.1 634.2,176.1 633.2,173.1 632.2,171.1 631.2,168.0 630.2,166.0 629.2,164.0"/><polygon fill="#00F0FF" points="637.0,164.0 638.3,167.0 639.0,170.6 640.3,173.6 641.3,176.6 642.3,179.6 643.3,181.7 644.3,182.7 645.3,185.7 646.3,187.7 646.8,190.7 647.5,190.7 647.5,164.0"/><polygon fill="#00F0FF" points="621.1,188.0 624.1,188.0 625.2,190.2 625.9,192.2 626.1,194.8 627.7,196.0 628.2,197.0 620.1,197.0 620.1,189.7"/><polygon fill="#00F0FF" points="570.8,197.0 572.0,194.8 573.0,193.7 573.0,192.0 574.0,192.0 574.0,193.0 576.1,193.0 576.1,191.0 578.1,191.0 578.1,194.8 579.1,194.3 583.1,194.3 583.1,197.0"/><polygon fill="#00F0FF" points="586.9,196.0 587.9,196.0 587.9,197.0 586.9,197.0"/><polygon fill="#00F0FF" points="604.8,197.0 605.3,196.0 606.8,194.8 607.6,194.0 608.3,194.8 609.0,194.8 609.0,197.0"/></g>
<g clip-path="url(#c41)"><g clip-path="url(#q29)"><rect x="569" y="197" width="40" height="33" fill="#00F0FF"/><polygon fill="#FFFF00" points="569.0,197.0 571.0,197.0 571.0,212.6 570.0,213.1 569.0,213.9"/><polygon fill="#FFFF00" points="582.9,197.0 586.2,197.0 586.2,199.5 585.1,200.0 584.1,201.0 583.9,202.8 583.1,202.8 582.9,201.8 582.1,201.5 582.1,199.3 582.9,199.0"/><polygon fill="#FFFF00" points="587.9,197.0 595.0,197.0 595.0,198.8 594.2,199.0 594.0,201.8 593.2,202.0 593.0,204.6 592.0,205.1 590.9,206.1 590.9,207.8 589.9,208.1 589.7,209.6 588.9,210.1 587.9,211.1 586.9,212.1 586.7,212.9 585.9,212.9 585.9,208.1 586.9,207.8 586.9,203.1 587.9,202.8"/><polygon fill="#FFFF00" points="597.0,197.0 605.1,197.0 605.1,197.8 604.1,198.0 604.1,201.8 603.1,202.0 603.1,207.8 602.1,208.1 602.1,209.6 603.1,210.1 604.1,210.1 604.3,210.9 606.1,211.1 606.3,212.6 607.3,213.7 609.0,213.9 609.0,230.0 605.1,230.0 605.1,227.3 604.1,226.8 603.8,225.0 603.1,225.0 602.8,226.0 601.3,226.3 600.3,227.3 599.8,228.0 599.0,228.0 599.0,220.0 600.0,219.5 600.0,214.2 601.0,213.7 601.0,211.9 600.3,211.9 599.3,212.9 599.0,214.2 598.0,214.7 597.3,215.9 597.0,216.9 596.2,217.2 596.0,219.2 595.0,219.7 594.2,220.7 594.0,223.7 593.2,224.0 593.0,230.0 588.9,230.0 588.9,227.3 589.9,226.8 589.9,224.0 590.9,223.7 590.9,221.2 592.0,220.7 592.0,216.9 593.0,216.7 593.0,212.1 594.0,211.6 594.0,207.1 595.0,206.8 595.0,203.1 596.0,202.8 596.0,200.0 597.0,199.8"/><polygon fill="#FFFF00" points="575.1,221.2 575.8,221.0 576.1,220.0 577.1,220.0 577.1,221.7 576.1,222.2 575.8,224.0 575.1,224.0"/><polygon fill="#FFFF00" points="577.1,223.2 577.8,223.0 578.1,222.0 578.8,222.0 579.1,225.8 578.1,226.3 577.8,228.0 577.1,227.8"/></g><g clip-path="url(#q30)"><rect x="608" y="197" width="40" height="33" fill="#00F0FF"/><polygon fill="#FFFF00" points="611.0,197.0 620.1,197.0 620.1,205.8 618.8,206.3 618.1,207.8 617.1,208.9 615.8,210.1 615.1,211.6 613.0,212.6 612.0,213.9 611.8,226.8 611.0,227.3 610.8,230.0 608.0,230.0 608.0,213.9 610.8,213.7 611.8,212.6 612.0,202.0 611.0,201.8"/><polygon fill="#FFFF00" points="629.9,197.0 636.0,197.0 637.0,199.0 637.3,200.8 638.0,201.5 638.3,203.6 639.0,204.6 639.3,207.3 640.3,208.1 641.3,209.6 642.3,210.6 643.3,211.6 644.3,212.4 645.6,213.4 646.9,214.9 648.0,214.9 648.0,230.0 639.0,230.0 638.8,224.2 638.0,223.7 637.8,218.7 637.0,218.2 636.8,216.2 635.8,214.9 633.2,214.9 632.2,213.9 631.0,212.6 631.0,199.0 629.9,198.5"/><polygon fill="#FFFF00" points="642.3,197.0 648.0,197.0 648.0,203.8 646.1,203.6 645.8,202.0 645.1,201.5 644.3,200.0 643.3,198.5"/><polygon fill="#FFFF00" points="628.7,214.2 628.9,216.7 629.9,217.2 629.9,219.5 628.9,220.0 628.7,227.8 627.9,228.3 627.9,230.0 616.1,230.0 617.1,228.5 618.1,227.5 619.1,226.3 620.1,225.3 621.1,224.2 621.9,223.2 622.1,221.7 622.9,221.0 623.1,219.2 623.9,218.4 624.1,217.2 625.2,216.7 625.9,215.7 626.9,214.9 627.9,214.7"/></g><g clip-path="url(#q31)"><rect x="569" y="229" width="40" height="33" fill="#00F0FF"/><polygon fill="#FFFF00" points="589.2,229.0 593.0,229.0 593.0,229.8 592.0,230.0 592.0,233.8 590.9,234.0 590.9,236.8 589.9,237.1 589.9,238.8 589.2,238.8"/><polygon fill="#FFFF00" points="594.2,234.0 595.2,233.8 595.2,233.0 596.0,233.0 596.2,234.0 597.0,234.0 597.0,235.8 596.0,236.1 596.0,238.8 595.0,239.1 595.0,239.8 594.2,239.8"/><polygon fill="#FFFF00" points="605.1,229.0 609.0,229.0 609.0,234.0 607.9,234.6 606.8,235.8 605.1,235.8"/><polygon fill="#FFFF00" points="569.0,246.9 569.8,246.7 570.0,245.1 571.0,244.6 571.3,243.6 572.0,243.4 573.0,243.1 573.0,244.6 572.0,245.1 571.8,248.9 571.0,249.2 570.8,253.7 570.0,254.0 569.8,257.8 569.0,258.0"/><polygon fill="#FFFF00" points="571.0,262.0 571.0,255.2 572.0,254.7 572.0,253.2 573.0,252.7 573.0,249.2 574.0,248.7 574.0,247.2 575.1,246.7 576.1,245.1 578.1,245.1 578.1,247.9 579.8,247.9 580.1,246.9 581.9,246.9 582.1,248.9 584.9,248.9 585.1,257.0 585.9,257.0 586.2,256.2 587.2,255.2 588.2,254.0 588.9,254.0 589.2,255.0 589.9,255.2 589.9,260.8 589.2,261.0 588.9,262.0"/><polygon fill="#FFFF00" points="602.1,241.1 603.1,241.1 603.1,244.6 602.3,244.9 602.1,247.9 601.3,248.2 601.0,250.7 600.3,251.2 599.3,252.2 599.0,253.7 598.3,254.0 598.0,255.2 597.3,255.7 597.0,257.5 596.2,257.8 596.0,262.0 592.0,262.0 592.2,261.0 593.0,260.8 593.2,259.3 594.0,258.8 594.2,257.0 595.0,256.8 595.2,255.0 596.0,254.7 596.2,252.2 597.0,252.0 597.3,250.2 598.0,249.9 598.3,247.2 599.0,246.9 599.3,245.1 600.3,244.6 601.0,243.6 601.3,242.1"/><polygon fill="#FFFF00" points="609.0,246.9 608.1,247.2 607.9,248.2 607.1,248.4 606.8,249.7 606.1,250.2 605.8,251.7 605.1,252.2 604.8,253.7 604.1,254.0 603.8,255.7 603.1,256.0 602.1,257.3 602.1,259.0 601.3,259.3 601.0,260.8 600.3,261.0 600.0,262.0 604.1,262.0 604.3,260.0 605.1,259.8 605.3,258.8 606.1,258.3 606.3,257.0 607.1,256.5 608.1,255.5 609.0,255.0"/></g><g clip-path="url(#q32)"><rect x="608" y="229" width="40" height="33" fill="#00F0FF"/><polygon fill="#FFFF00" points="608.0,229.0 611.0,229.0 610.8,229.8 610.0,230.3 609.8,231.8 609.0,232.3 608.8,233.8 608.0,234.0"/><polygon fill="#FFFF00" points="616.1,229.0 628.2,229.0 627.9,230.0 626.9,231.0 626.2,232.3 625.2,233.0 624.1,234.0 623.9,235.8 623.1,236.3 622.9,238.8 622.1,239.3 621.9,240.9 621.1,241.4 620.9,242.6 620.1,243.1 619.1,243.9 618.1,244.1 617.1,244.9 615.1,245.1 614.1,245.9 613.0,246.2 612.0,247.2 611.8,248.9 611.0,249.4 610.8,251.2 610.0,251.7 609.0,253.0 608.8,254.7 608.0,255.0 608.0,246.9 609.0,246.2 610.0,245.1 611.0,244.1 612.0,243.4 612.0,242.1 613.0,241.6 613.0,238.1 614.1,237.6 614.1,233.0 615.1,232.5 615.8,231.3"/><polygon fill="#FFFF00" points="628.9,232.0 634.0,232.0 634.2,231.0 635.0,231.0 635.2,232.0 637.0,232.0 637.0,246.7 636.0,246.9 636.0,250.7 630.2,250.9 629.2,252.0 628.2,253.0 627.2,254.0 626.9,255.2 625.9,255.5 625.9,256.8 624.1,256.8 623.9,255.2 623.1,254.7 623.1,254.0 624.1,253.7 624.1,249.2 625.2,248.7 625.2,246.9 625.9,246.7 626.2,244.1 626.9,243.6 627.2,238.6 627.9,238.1 628.2,234.0 628.9,233.8"/><polygon fill="#FFFF00" points="639.0,229.0 648.0,229.0 648.0,232.8 643.3,232.8 642.3,232.0 641.3,231.0 640.3,230.3 639.3,229.8"/><polygon fill="#FFFF00" points="639.3,258.3 641.3,258.0 642.3,258.8 643.3,259.8 644.3,260.5 645.3,261.3 645.6,262.0 638.0,262.0 638.3,261.0 639.0,260.5"/><polygon fill="#FFFF00" points="616.1,261.0 617.1,261.0 617.1,262.0 616.1,262.0"/></g></g>
<g clip-path="url(#c42)"><g clip-path="url(#q33)"><rect x="569" y="262" width="40" height="33" fill="#FFFF00"/><polygon fill="#00F0FF" points="569.0,262.0 570.0,262.0 570.0,264.8 569.0,265.0"/><polygon fill="#00F0FF" points="569.0,281.9 570.0,281.7 570.0,279.2 571.0,278.9 571.0,275.1 572.0,274.9 572.0,273.1 573.0,272.8 573.0,272.1 574.0,272.1 574.0,281.7 573.0,282.2 573.0,285.0 572.0,285.2 572.0,291.8 571.0,292.3 571.0,295.0 569.0,295.0"/><polygon fill="#00F0FF" points="579.1,266.0 580.1,266.0 580.1,273.9 579.1,274.1 579.1,276.9 578.1,277.1 578.1,281.9 577.1,281.9 577.1,271.1 578.1,270.8 578.1,268.1 579.1,267.8"/><polygon fill="#00F0FF" points="576.1,283.9 577.1,283.9 577.1,286.0 576.1,286.0"/><polygon fill="#00F0FF" points="581.1,289.0 582.1,289.0 582.1,292.8 581.1,292.8"/><polygon fill="#00F0FF" points="589.2,262.0 592.0,262.0 592.0,262.8 590.9,263.0 590.9,264.5 589.9,264.8 589.9,265.8 589.2,265.8"/><polygon fill="#00F0FF" points="595.2,262.0 599.0,262.0 599.0,264.8 598.0,265.0 598.0,267.8 597.0,268.1 597.0,269.8 596.0,270.1 596.0,291.0 595.0,291.3 595.0,295.0 589.9,295.0 589.9,289.0 590.9,288.7 590.9,283.9 592.0,283.7 592.2,279.9 593.0,279.7 593.0,274.1 594.0,273.9 594.0,267.0 595.0,266.8"/><polygon fill="#00F0FF" points="603.1,262.0 609.0,262.0 609.0,273.9 608.1,274.1 608.1,277.9 607.1,278.1 606.8,279.7 606.1,279.9 605.8,280.9 603.3,280.9 603.1,279.9 601.0,279.7 601.0,267.0 602.1,266.8 602.1,264.0 603.1,263.8"/></g><g clip-path="url(#q34)"><rect x="608" y="262" width="40" height="33" fill="#FFFF00"/><polygon fill="#00F0FF" points="608.0,262.0 614.1,262.0 613.8,263.8 613.0,264.0 612.8,265.0 612.0,265.3 611.8,267.8 611.0,268.1 610.8,269.8 610.0,270.1 609.8,271.8 609.0,272.1 608.8,273.9 608.0,274.1"/><polygon fill="#00F0FF" points="618.1,262.0 638.0,262.0 638.0,267.8 637.0,268.1 637.0,279.7 638.0,280.2 638.3,285.7 639.0,286.2 639.3,288.7 640.0,289.2 640.3,291.8 641.1,292.3 641.1,295.0 635.0,295.0 635.0,277.1 634.0,276.9 634.0,274.1 633.0,273.9 632.7,273.1 631.2,273.1 631.0,275.9 629.9,276.1 629.9,295.0 624.1,295.0 623.9,291.0 623.1,291.0 622.9,291.8 621.1,292.0 620.1,292.8 619.9,293.8 617.1,293.8 617.1,287.0 618.1,286.7 618.1,274.1 617.1,273.9 617.1,271.1 618.1,270.8"/><polygon fill="#00F0FF" points="646.1,262.0 647.1,262.0 647.1,264.0 646.1,263.8"/></g><g clip-path="url(#q35)"><rect x="569" y="294" width="40" height="33" fill="#FFFF00"/><polygon fill="#00F0FF" points="569.0,294.0 571.0,294.0 571.0,299.8 569.0,299.8"/><polygon fill="#00F0FF" points="571.0,310.1 572.0,310.1 572.0,324.8 573.0,325.3 573.0,327.0 569.0,327.0 569.0,320.7 570.0,320.5 570.0,313.2 571.0,312.9"/><polygon fill="#00F0FF" points="575.1,300.1 577.1,300.1 577.1,308.1 578.1,308.4 578.1,311.9 579.1,311.7 579.3,310.9 580.1,311.4 581.1,312.4 582.9,312.9 583.1,315.7 584.1,316.2 584.1,327.0 574.0,327.0 574.0,309.1 575.1,308.9"/><polygon fill="#00F0FF" points="590.2,294.0 595.0,294.0 595.0,295.8 594.0,296.0 594.0,303.8 593.0,304.1 593.0,312.7 592.0,312.9 592.0,318.7 590.9,319.0 590.9,321.8 589.9,322.0 589.9,327.0 587.2,327.0 587.2,321.8 586.2,321.5 586.2,311.9 585.1,311.7 585.1,307.1 586.2,306.9 586.2,298.0 587.2,297.8 587.2,296.0 590.2,295.8"/><polygon fill="#00F0FF" points="608.1,308.1 609.0,308.1 609.0,327.0 605.1,327.0 605.3,325.8 606.1,325.5 606.3,324.0 607.1,323.8 607.1,322.0 608.1,321.8 608.1,311.9 607.1,311.9 607.1,311.2 608.1,310.9"/></g><g clip-path="url(#q36)"><rect x="608" y="294" width="40" height="33" fill="#FFFF00"/><polygon fill="#00F0FF" points="608.0,307.9 608.8,307.6 609.0,305.1 610.0,304.8 610.0,303.1 611.0,302.8 611.0,301.1 612.0,300.8 612.0,300.1 613.0,300.1 613.0,302.3 612.0,302.6 612.0,304.8 611.0,305.1 611.0,309.6 612.0,310.1 612.0,313.9 613.0,314.2 613.0,317.7 612.0,318.2 612.0,323.0 611.0,323.3 611.0,327.0 608.0,327.0"/><polygon fill="#00F0FF" points="614.1,300.1 616.1,300.1 616.1,302.8 615.1,302.8 615.1,301.1 614.1,300.8"/><polygon fill="#00F0FF" points="624.1,294.0 629.9,294.0 629.9,296.0 628.9,296.3 628.9,300.8 628.2,300.8 627.9,299.8 624.1,299.8"/><polygon fill="#00F0FF" points="635.0,294.0 641.1,294.0 641.3,296.8 642.1,297.0 642.3,300.6 643.1,301.1 643.3,304.1 644.1,304.6 644.1,308.6 645.1,309.1 645.1,311.4 646.1,311.9 646.9,312.9 648.0,312.9 648.0,327.0 631.0,327.0 631.0,318.0 632.0,318.0 632.0,319.7 633.0,320.2 633.0,322.3 634.0,322.8 634.0,324.5 635.0,324.8"/></g></g>
<g clip-path="url(#c43)"><g clip-path="url(#q37)"><rect x="569" y="327" width="40" height="33" fill="#FFFF00"/><polygon fill="#00F0FF" points="569.0,327.0 573.0,327.0 573.0,333.8 574.0,333.8 574.0,327.0 584.1,327.0 584.1,330.0 585.1,330.3 585.1,336.8 584.1,337.1 584.1,340.9 583.1,341.1 582.9,342.9 582.1,342.9 581.9,341.9 581.1,341.9 581.1,343.9 580.1,343.9 579.8,341.9 578.1,341.9 577.8,334.1 577.1,333.8 577.1,329.0 575.1,329.0 575.1,339.9 576.1,340.1 576.1,344.7 577.1,345.2 577.1,348.2 578.1,348.4 578.1,351.7 579.1,352.2 579.1,353.7 579.8,353.7 580.1,351.0 581.1,351.0 581.1,353.0 582.1,353.2 582.1,360.0 579.1,360.0 578.8,358.8 578.1,358.5 577.1,357.3 577.1,355.0 576.1,354.5 576.1,353.2 575.1,352.7 574.0,351.7 574.0,348.2 573.0,347.7 573.0,343.1 572.0,342.9 572.0,340.4 571.0,339.9 571.0,337.1 570.0,337.1 570.0,337.8 569.0,338.1"/><polygon fill="#00F0FF" points="569.0,344.2 570.0,344.2 570.0,350.0 571.0,350.2 571.0,357.0 572.0,357.3 572.0,360.0 570.0,360.0 570.0,354.2 569.0,354.0"/><polygon fill="#00F0FF" points="586.9,327.0 589.9,327.0 589.9,332.8 589.2,333.1 589.2,335.8 589.9,336.1 589.9,344.9 590.9,345.2 590.9,349.7 590.2,350.0 589.9,348.9 589.2,348.7 588.9,344.9 588.2,344.7 587.9,342.1 586.9,341.9 586.7,341.1 585.1,340.9 585.1,340.1 585.9,339.9 586.2,333.1 586.9,332.8"/><polygon fill="#00F0FF" points="605.1,327.0 609.0,327.0 609.0,344.2 608.1,344.4 608.1,347.9 607.1,348.2 607.1,351.0 606.1,351.2 606.1,354.5 605.1,355.0 605.1,357.8 604.1,358.0 604.1,360.0 597.0,360.0 597.0,353.0 596.2,352.7 596.0,346.7 595.0,346.4 595.0,339.1 596.0,338.9 596.2,336.1 597.0,336.1 597.3,336.8 598.0,337.1 598.3,342.6 599.0,343.1 599.3,343.9 600.8,343.9 601.3,343.1 602.1,342.4 602.3,341.1 603.1,340.6 603.3,339.1 604.1,338.6 604.1,336.1 605.1,335.8"/></g><g clip-path="url(#q38)"><rect x="608" y="327" width="40" height="33" fill="#00F0FF"/><polygon fill="#FFFF00" points="611.0,327.0 631.0,327.0 631.0,335.8 632.0,336.1 632.0,344.9 631.0,344.9 631.0,343.1 629.9,342.6 628.9,341.6 628.7,340.4 627.9,339.9 627.4,339.1 626.2,339.1 625.2,339.9 624.9,342.6 624.1,343.1 623.9,345.7 622.9,346.2 622.1,346.9 621.1,347.2 620.9,348.9 619.9,349.2 619.1,350.2 618.8,352.7 617.8,353.2 617.6,354.0 616.1,354.0 615.8,353.2 614.1,353.0 613.8,352.2 613.0,352.2 612.8,353.7 612.0,354.0 611.0,355.0 610.8,358.8 610.0,359.3 610.0,360.0 608.0,360.0 608.0,344.2 609.0,343.9 609.0,339.9 610.0,339.6 610.0,329.0 611.0,328.8"/><polygon fill="#FFFF00" points="639.3,346.2 640.0,346.2 640.3,347.2 641.1,347.4 641.1,350.7 642.1,351.2 642.3,352.7 643.1,353.2 643.3,355.8 644.1,356.3 644.1,360.0 634.0,360.0 634.0,351.0 635.0,350.7 635.2,350.0 638.0,350.0 638.3,348.9 639.0,348.7"/><polygon fill="#FFFF00" points="646.1,355.0 648.0,355.0 648.0,360.0 646.1,360.0"/></g><g clip-path="url(#q39)"><rect x="569" y="359" width="40" height="33" fill="#FFFF00"/><polygon fill="#00F0FF" points="570.0,359.0 572.0,359.0 572.0,361.0 573.0,361.3 573.0,363.0 574.0,363.3 574.0,366.8 575.1,367.1 575.1,369.8 574.0,370.1 574.0,375.9 573.0,376.2 573.0,392.0 571.0,392.0 571.0,365.1 570.0,364.8"/><polygon fill="#00F0FF" points="569.0,382.0 570.0,382.0 570.0,392.0 569.0,392.0"/><polygon fill="#00F0FF" points="579.1,359.0 582.1,359.0 582.1,374.9 581.1,375.1 581.1,378.9 580.1,379.2 580.1,379.9 581.1,380.2 581.1,392.0 575.1,392.0 575.1,376.2 577.1,376.2 577.1,376.9 578.1,376.7 578.1,375.9 579.1,375.7 579.1,373.1 578.1,372.9 578.1,367.1 579.1,366.8"/><polygon fill="#FFFF00" points="578.1,382.0 579.1,382.0 579.1,385.0 578.1,385.0"/><polygon fill="#FFFF00" points="579.1,387.0 580.1,387.0 580.1,389.8 579.1,389.8"/><polygon fill="#00F0FF" points="585.1,362.0 586.2,361.8 586.2,361.0 586.9,361.0 587.2,362.8 587.9,363.0 587.9,372.9 590.9,372.9 590.9,367.1 592.0,367.1 592.0,372.9 593.0,373.1 593.0,384.0 595.0,384.0 595.0,392.0 587.9,392.0 587.9,384.0 586.9,384.0 586.9,387.8 585.1,388.0"/><polygon fill="#00F0FF" points="584.1,388.0 585.1,388.0 585.1,392.0 584.1,392.0"/><polygon fill="#00F0FF" points="597.0,359.0 604.1,359.0 604.1,363.8 603.1,364.0 603.1,369.8 602.1,370.1 601.8,371.9 600.3,371.9 600.0,369.1 599.3,368.8 599.0,366.1 598.3,365.8 598.0,362.0 597.0,361.8"/></g><g clip-path="url(#q40)"><rect x="608" y="359" width="40" height="33" fill="#00F0FF"/><polygon fill="#FFFF00" points="608.0,359.0 610.0,359.0 610.0,364.8 609.0,365.1 609.0,392.0 608.0,392.0"/><polygon fill="#FFFF00" points="634.0,359.0 644.1,359.0 644.1,365.8 645.1,366.3 645.3,369.8 646.1,370.1 646.1,385.0 647.1,385.2 647.1,392.0 634.0,392.0 634.0,387.0 633.0,386.8 633.0,378.9 632.0,378.7 632.0,372.1 633.0,371.9 633.0,370.1 634.0,369.8"/><polygon fill="#FFFF00" points="646.2,359.0 648.0,359.0 648.0,369.8 646.2,369.8"/><polygon fill="#FFFF00" points="618.1,387.0 619.1,387.0 619.1,392.0 618.1,392.0"/><polygon fill="#FFFF00" points="620.1,388.0 621.1,387.8 621.1,386.2 621.9,386.2 622.1,392.0 620.1,392.0"/><polygon fill="#FFFF00" points="624.1,383.2 624.9,383.2 625.2,386.8 625.9,387.0 625.9,392.0 624.9,392.0 624.1,388.0"/><polygon fill="#FFFF00" points="628.9,387.0 629.9,387.0 629.9,392.0 628.9,392.0"/></g></g>
</g>
<g id="ticks" fill="#000" shape-rendering="crispEdges">
<rect x="271" y="132" width="1" height="4"/>
<rect x="271" y="388" width="1" height="3"/>
<rect x="286" y="132" width="1" height="4"/>
<rect x="286" y="388" width="1" height="3"/>
<rect x="302" y="132" width="1" height="4"/>
<rect x="302" y="388" width="1" height="3"/>
<rect x="317" y="132" width="1" height="4"/>
<rect x="317" y="388" width="1" height="3"/>
<rect x="331" y="132" width="2" height="9"/>
<rect x="331" y="382" width="2" height="9"/>
<rect x="348" y="132" width="1" height="4"/>
<rect x="348" y="388" width="1" height="3"/>
<rect x="363" y="132" width="1" height="4"/>
<rect x="363" y="388" width="1" height="3"/>
<rect x="378" y="132" width="1" height="4"/>
<rect x="378" y="388" width="1" height="3"/>
<rect x="394" y="132" width="1" height="4"/>
<rect x="394" y="388" width="1" height="3"/>
<rect x="408" y="132" width="2" height="9"/>
<rect x="408" y="382" width="2" height="9"/>
<rect x="424" y="132" width="1" height="4"/>
<rect x="424" y="388" width="1" height="3"/>
<rect x="440" y="132" width="1" height="4"/>
<rect x="440" y="388" width="1" height="3"/>
<rect x="455" y="132" width="1" height="4"/>
<rect x="455" y="388" width="1" height="3"/>
<rect x="470" y="132" width="1" height="4"/>
<rect x="470" y="388" width="1" height="3"/>
<rect x="485" y="132" width="2" height="9"/>
<rect x="485" y="382" width="2" height="9"/>
<rect x="501" y="132" width="1" height="4"/>
<rect x="501" y="388" width="1" height="3"/>
<rect x="516" y="132" width="1" height="4"/>
<rect x="516" y="388" width="1" height="3"/>
<rect x="532" y="132" width="1" height="4"/>
<rect x="532" y="388" width="1" height="3"/>
<rect x="547" y="132" width="1" height="4"/>
<rect x="547" y="388" width="1" height="3"/>
<rect x="561" y="132" width="2" height="9"/>
<rect x="561" y="382" width="2" height="9"/>
<rect x="578" y="132" width="1" height="4"/>
<rect x="578" y="388" width="1" height="3"/>
<rect x="593" y="132" width="1" height="4"/>
<rect x="593" y="388" width="1" height="3"/>
<rect x="608" y="132" width="1" height="4"/>
<rect x="608" y="388" width="1" height="3"/>
<rect x="624" y="132" width="1" height="4"/>
<rect x="624" y="388" width="1" height="3"/>
<rect x="638" y="132" width="2" height="9"/>
<rect x="638" y="382" width="2" height="9"/>
<rect x="257" y="147" width="4" height="1"/>
<rect x="644" y="147" width="3" height="1"/>
<rect x="257" y="165" width="4" height="1"/>
<rect x="644" y="165" width="3" height="1"/>
<rect x="257" y="182" width="4" height="1"/>
<rect x="644" y="182" width="3" height="1"/>
<rect x="257" y="200" width="4" height="1"/>
<rect x="644" y="200" width="3" height="1"/>
<rect x="257" y="217" width="9" height="2"/>
<rect x="638" y="217" width="9" height="2"/>
<rect x="257" y="235" width="4" height="1"/>
<rect x="644" y="235" width="3" height="1"/>
<rect x="257" y="253" width="4" height="1"/>
<rect x="644" y="253" width="3" height="1"/>
<rect x="257" y="270" width="4" height="1"/>
<rect x="644" y="270" width="3" height="1"/>
<rect x="257" y="288" width="4" height="1"/>
<rect x="644" y="288" width="3" height="1"/>
<rect x="257" y="305" width="9" height="2"/>
<rect x="638" y="305" width="9" height="2"/>
<rect x="257" y="323" width="4" height="1"/>
<rect x="644" y="323" width="3" height="1"/>
<rect x="257" y="341" width="4" height="1"/>
<rect x="644" y="341" width="3" height="1"/>
<rect x="257" y="358" width="4" height="1"/>
<rect x="644" y="358" width="3" height="1"/>
<rect x="257" y="376" width="4" height="1"/>
<rect x="644" y="376" width="3" height="1"/>
</g>
<g id="cbar" shape-rendering="crispEdges">
<rect x="663" y="195" width="15" height="198" fill="#000"/>
<rect x="665" y="197" width="11" height="40" fill="#FFE1E1"/>
<rect x="665" y="239" width="11" height="15" fill="#FFB9B9"/>
<rect x="665" y="256" width="11" height="15" fill="#FF7878"/>
<rect x="665" y="273" width="11" height="15" fill="#FF1414"/>
<rect x="665" y="290" width="11" height="15" fill="#FF6A00"/>
<rect x="665" y="307" width="11" height="3" fill="#FFA000"/>
<rect x="665" y="312" width="11" height="4" fill="#FFCF00"/>
<rect x="665" y="318" width="11" height="4" fill="#FFFF00"/>
<rect x="665" y="324" width="11" height="3" fill="#00F0FF"/>
<rect x="665" y="329" width="11" height="4" fill="#0028FF"/>
<rect x="665" y="335" width="11" height="4" fill="#0000B4"/>
<rect x="665" y="341" width="11" height="14" fill="#7800B4"/>
<rect x="665" y="357" width="11" height="15" fill="#B400B4"/>
<rect x="665" y="374" width="11" height="17" fill="#F000B4"/>
</g>
<!-- title -->
<text class="thin" y="84.5" font-size="30.5" ><tspan x="337" letter-spacing="1.25">vertical</tspan> <tspan x="459.2" letter-spacing="1.1">velocity</tspan></text>
<text class="thin2" transform="translate(655.2,142.6) scale(1.2,1)" font-size="16.2" textLength="84.6" lengthAdjust="spacing">t=121200 s</text>
<!-- unit labels -->
<text class="b" x="165" y="107.8" font-size="16.8" textLength="86.5" lengthAdjust="spacing">(x1E4 m)</text>
<text class="b" x="567.5" y="437.8" font-size="16.8" textLength="87" lengthAdjust="spacing">(x1E5 m)</text>
<!-- axis titles -->
<g class="med" font-size="23.8">
<text x="372" y="468.5">X</text><text transform="translate(386.5,468.5) scale(2.7,1.15)">-</text><text x="408.3" y="468.5" letter-spacing="1.45">coordinate</text>
</g>
<g font-size="23.8" transform="translate(218.3,339.2) rotate(-90)">
<text x="0" y="0">Z</text><text transform="translate(16.1,0) scale(2.7,1.15)">-</text><text x="35.4" y="0" letter-spacing="1.28">coordinate</text>
</g>
<!-- tick labels -->
<g class="b" font-size="18.8" text-anchor="middle">
<text x="332" y="414.5">1</text>
<text x="409.3" y="414.5">2</text>
<text x="486.2" y="414.5">3</text>
<text x="562.6" y="414.5">4</text>
<text x="639.3" y="414.5">5</text>
<text x="240" y="223.5">2</text>
<text x="240" y="311.7">1</text>
</g>
<!-- colorbar labels -->
<g class="b" font-size="17.2">
<text x="687.4" y="243.1" letter-spacing="0.4">15</text>
<text x="686.6" y="294.1">6</text>
<text x="686.2" y="322.4">1</text>
<text transform="translate(685.4,339.5) scale(2.5,1.3)">-</text><text x="699.2" y="339.5">2</text>
<text transform="translate(685.4,378.9) scale(2.5,1.3)">-</text><text x="699.2" y="378.9">9</text>
</g>
</svg>
</body></html>
